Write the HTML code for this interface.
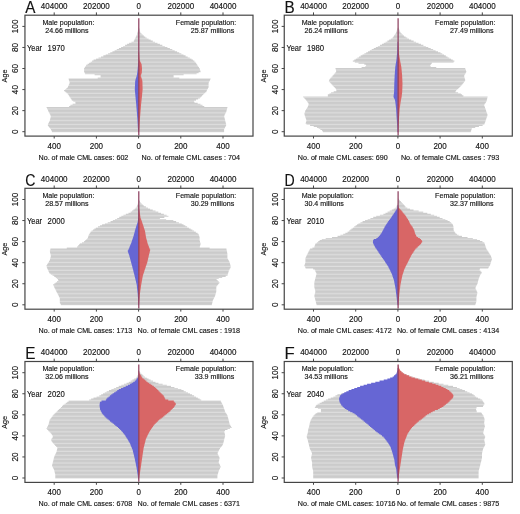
<!DOCTYPE html>
<html><head><meta charset="utf-8"><style>
html,body{margin:0;padding:0;background:#fff;}
body{width:520px;height:514px;overflow:hidden;}
svg{display:block;filter:blur(0.35px);}
</style></head><body>
<svg width="520" height="514" viewBox="0 0 520 514">
<defs>
<pattern id="stripe" patternUnits="userSpaceOnUse" x="0" y="0.3" width="8" height="3.9">
<rect width="8" height="3.9" fill="#cbcbcb"/>
<rect y="2.7" width="8" height="1.2" fill="#dedede"/>
</pattern>
</defs>
<rect width="520" height="514" fill="#fff"/>
<g transform="translate(0.00,0.00)">
<path d="M138.60,132.23 L52.00,132.23 L52.00,131.17 L51.45,131.17 L51.45,130.12 L50.90,130.12 L50.90,129.07 L50.15,129.07 L50.15,128.01 L49.40,128.01 L49.40,126.96 L48.65,126.96 L48.65,125.91 L47.90,125.91 L47.90,124.86 L47.92,124.86 L47.92,123.80 L48.46,123.80 L48.46,122.75 L49.00,122.75 L49.00,121.70 L49.53,121.70 L49.53,120.64 L49.93,120.64 L49.93,119.59 L50.18,119.59 L50.18,118.54 L50.44,118.54 L50.44,117.48 L50.70,117.48 L50.70,116.43 L50.79,116.43 L50.79,115.38 L50.24,115.38 L50.24,114.33 L49.70,114.33 L49.70,113.27 L49.15,113.27 L49.15,112.22 L48.60,112.22 L48.60,111.17 L48.10,111.17 L48.10,110.11 L47.60,110.11 L47.60,109.06 L47.10,109.06 L47.10,108.01 L46.60,108.01 L46.60,106.95 L69.11,106.95 L69.11,105.90 L70.39,105.90 L70.39,104.85 L72.61,104.85 L72.61,103.80 L75.46,103.80 L75.46,102.74 L75.37,102.74 L75.37,101.69 L73.33,101.69 L73.33,100.64 L71.83,100.64 L71.83,99.58 L71.15,99.58 L71.15,98.53 L70.48,98.53 L70.48,97.48 L69.80,97.48 L69.80,96.42 L69.07,96.42 L69.07,95.37 L68.33,95.37 L68.33,94.32 L67.60,94.32 L67.60,93.27 L66.43,93.27 L66.43,92.21 L65.27,92.21 L65.27,91.16 L64.10,91.16 L64.10,90.11 L65.27,90.11 L65.27,89.05 L66.43,89.05 L66.43,88.00 L67.60,88.00 L67.60,86.95 L68.09,86.95 L68.09,85.89 L68.58,85.89 L68.58,84.84 L69.07,84.84 L69.07,83.79 L69.56,83.79 L69.56,82.74 L69.63,82.74 L69.63,81.68 L69.29,81.68 L69.29,80.63 L68.94,80.63 L68.94,79.58 L68.60,79.58 L68.60,78.52 L97.74,78.52 L97.74,77.47 L100.60,77.47 L100.60,76.42 L100.60,76.42 L100.60,75.36 L94.60,75.36 L94.60,74.31 L85.10,74.31 L85.10,73.26 L84.60,73.26 L84.60,72.21 L84.10,72.21 L84.10,71.15 L84.10,71.15 L84.10,70.10 L84.10,70.10 L84.10,69.05 L84.10,69.05 L84.10,67.99 L84.77,67.99 L84.77,66.94 L85.43,66.94 L85.43,65.89 L86.10,65.89 L86.10,64.83 L87.60,64.83 L87.60,63.78 L89.10,63.78 L89.10,62.73 L90.60,62.73 L90.60,61.68 L92.10,61.68 L92.10,60.62 L93.60,60.62 L93.60,59.57 L96.07,59.57 L96.07,58.52 L98.53,58.52 L98.53,57.46 L101.00,57.46 L101.00,56.41 L103.37,56.41 L103.37,55.36 L105.73,55.36 L105.73,54.30 L108.10,54.30 L108.10,53.25 L110.27,53.25 L110.27,52.20 L112.43,52.20 L112.43,51.15 L114.60,51.15 L114.60,50.09 L116.77,50.09 L116.77,49.04 L118.93,49.04 L118.93,47.99 L121.10,47.99 L121.10,46.93 L123.10,46.93 L123.10,45.88 L125.10,45.88 L125.10,44.83 L127.10,44.83 L127.10,43.77 L129.10,43.77 L129.10,42.72 L131.45,42.72 L131.45,41.67 L133.80,41.67 L133.80,40.62 L134.32,40.62 L134.32,39.56 L134.83,39.56 L134.83,38.51 L135.35,38.51 L135.35,37.46 L135.87,37.46 L135.87,36.40 L136.38,36.40 L136.38,35.35 L136.90,35.35 L136.90,34.30 L137.16,34.30 L137.16,33.24 L137.42,33.24 L137.42,32.19 L137.68,32.19 L137.68,31.14 L137.94,31.14 L137.94,30.09 L138.20,30.09 L138.20,29.03 L138.60,29.03 Z" fill="url(#stripe)"/>
<path d="M138.60,132.23 L224.10,132.23 L224.10,131.17 L224.10,131.17 L224.10,130.12 L224.10,130.12 L224.10,129.07 L224.56,129.07 L224.56,128.01 L225.07,128.01 L225.07,126.96 L225.58,126.96 L225.58,125.91 L226.10,125.91 L226.10,124.86 L226.14,124.86 L226.14,123.80 L225.88,123.80 L225.88,122.75 L225.62,122.75 L225.62,121.70 L225.36,121.70 L225.36,120.64 L225.10,120.64 L225.10,119.59 L224.83,119.59 L224.83,118.54 L224.57,118.54 L224.57,117.48 L224.31,117.48 L224.31,116.43 L224.20,116.43 L224.20,115.38 L224.73,115.38 L224.73,114.33 L225.25,114.33 L225.25,113.27 L225.78,113.27 L225.78,112.22 L226.30,112.22 L226.30,111.17 L226.57,111.17 L226.57,110.11 L226.85,110.11 L226.85,109.06 L227.12,109.06 L227.12,108.01 L227.40,108.01 L227.40,106.95 L204.26,106.95 L204.26,105.90 L202.53,105.90 L202.53,104.85 L200.44,104.85 L200.44,103.80 L197.69,103.80 L197.69,102.74 L194.50,102.74 L194.50,101.69 L193.95,101.69 L193.95,100.64 L196.04,100.64 L196.04,99.58 L198.13,99.58 L198.13,98.53 L199.92,98.53 L199.92,97.48 L200.98,97.48 L200.98,96.42 L202.05,96.42 L202.05,95.37 L203.11,95.37 L203.11,94.32 L204.18,94.32 L204.18,93.27 L205.24,93.27 L205.24,92.21 L206.30,92.21 L206.30,91.16 L206.83,91.16 L206.83,90.11 L207.37,90.11 L207.37,89.05 L207.90,89.05 L207.90,88.00 L208.44,88.00 L208.44,86.95 L208.60,86.95 L208.60,85.89 L208.60,85.89 L208.60,84.84 L208.60,84.84 L208.60,83.79 L208.60,83.79 L208.60,82.74 L208.89,82.74 L208.89,81.68 L209.46,81.68 L209.46,80.63 L210.03,80.63 L210.03,79.58 L210.60,79.58 L210.60,78.52 L179.31,78.52 L179.31,77.47 L173.60,77.47 L173.60,76.42 L173.60,76.42 L173.60,75.36 L183.60,75.36 L183.60,74.31 L196.60,74.31 L196.60,73.26 L198.60,73.26 L198.60,72.21 L200.60,72.21 L200.60,71.15 L200.28,71.15 L200.28,70.10 L199.95,70.10 L199.95,69.05 L199.63,69.05 L199.63,67.99 L198.95,67.99 L198.95,66.94 L198.23,66.94 L198.23,65.89 L197.52,65.89 L197.52,64.83 L196.82,64.83 L196.82,63.78 L196.13,63.78 L196.13,62.73 L195.44,62.73 L195.44,61.68 L194.37,61.68 L194.37,60.62 L192.92,60.62 L192.92,59.57 L191.47,59.57 L191.47,58.52 L189.76,58.52 L189.76,57.46 L187.67,57.46 L187.67,56.41 L185.57,56.41 L185.57,55.36 L183.47,55.36 L183.47,54.30 L181.35,54.30 L181.35,53.25 L179.22,53.25 L179.22,52.20 L177.10,52.20 L177.10,51.15 L174.69,51.15 L174.69,50.09 L172.29,50.09 L172.29,49.04 L169.88,49.04 L169.88,47.99 L167.39,47.99 L167.39,46.93 L164.87,46.93 L164.87,45.88 L162.35,45.88 L162.35,44.83 L159.89,44.83 L159.89,43.77 L157.46,43.77 L157.46,42.72 L155.02,42.72 L155.02,41.67 L152.75,41.67 L152.75,40.62 L150.66,40.62 L150.66,39.56 L148.57,39.56 L148.57,38.51 L146.67,38.51 L146.67,37.46 L145.23,37.46 L145.23,36.40 L143.80,36.40 L143.80,35.35 L142.67,35.35 L142.67,34.30 L141.53,34.30 L141.53,33.24 L140.40,33.24 L140.40,32.19 L140.12,32.19 L140.12,31.14 L139.84,31.14 L139.84,30.09 L139.56,30.09 L139.56,29.03 L139.28,29.03 L139.28,27.98 L139.00,27.98 L139.00,26.93 L138.60,26.93 Z" fill="url(#stripe)"/>
<path d="M138.60,132.23 L138.10,132.23 L138.10,131.17 L138.04,131.17 L138.04,130.12 L137.98,130.12 L137.98,129.07 L137.92,129.07 L137.92,128.01 L137.86,128.01 L137.86,126.96 L137.81,126.96 L137.81,125.91 L137.75,125.91 L137.75,124.86 L137.69,124.86 L137.69,123.80 L137.63,123.80 L137.63,122.75 L137.57,122.75 L137.57,121.70 L137.51,121.70 L137.51,120.64 L137.45,120.64 L137.45,119.59 L137.39,119.59 L137.39,118.54 L137.31,118.54 L137.31,117.48 L137.22,117.48 L137.22,116.43 L137.14,116.43 L137.14,115.38 L137.05,115.38 L137.05,114.33 L136.97,114.33 L136.97,113.27 L136.88,113.27 L136.88,112.22 L136.80,112.22 L136.80,111.17 L136.71,111.17 L136.71,110.11 L136.63,110.11 L136.63,109.06 L136.54,109.06 L136.54,108.01 L136.46,108.01 L136.46,106.95 L136.37,106.95 L136.37,105.90 L136.29,105.90 L136.29,104.85 L136.20,104.85 L136.20,103.80 L136.10,103.80 L136.10,102.74 L136.00,102.74 L136.00,101.69 L135.90,101.69 L135.90,100.64 L135.80,100.64 L135.80,99.58 L135.70,99.58 L135.70,98.53 L135.60,98.53 L135.60,97.48 L135.50,97.48 L135.50,96.42 L135.40,96.42 L135.40,95.37 L135.30,95.37 L135.30,94.32 L135.20,94.32 L135.20,93.27 L135.10,93.27 L135.10,92.21 L135.00,92.21 L135.00,91.16 L134.90,91.16 L134.90,90.11 L134.80,90.11 L134.80,89.05 L134.85,89.05 L134.85,88.00 L134.90,88.00 L134.90,86.95 L134.94,86.95 L134.94,85.89 L134.99,85.89 L134.99,84.84 L135.04,84.84 L135.04,83.79 L135.09,83.79 L135.09,82.74 L135.13,82.74 L135.13,81.68 L135.18,81.68 L135.18,80.63 L135.39,80.63 L135.39,79.58 L135.71,79.58 L135.71,78.52 L136.04,78.52 L136.04,77.47 L136.36,77.47 L136.36,76.42 L136.68,76.42 L136.68,75.36 L137.00,75.36 L137.00,74.31 L137.12,74.31 L137.12,73.26 L137.25,73.26 L137.25,72.21 L137.38,72.21 L137.38,71.15 L137.50,71.15 L137.50,70.10 L137.62,70.10 L137.62,69.05 L137.73,69.05 L137.73,67.99 L137.80,67.99 L137.80,66.94 L137.88,66.94 L137.88,65.89 L137.95,65.89 L137.95,64.83 L138.03,64.83 L138.03,63.78 L138.10,63.78 L138.10,62.73 L138.60,62.73 Z" fill="#6666d4"/>
<path d="M138.60,132.23 L139.10,132.23 L139.10,131.17 L139.17,131.17 L139.17,130.12 L139.23,130.12 L139.23,129.07 L139.30,129.07 L139.30,128.01 L139.37,128.01 L139.37,126.96 L139.44,126.96 L139.44,125.91 L139.50,125.91 L139.50,124.86 L139.57,124.86 L139.57,123.80 L139.64,123.80 L139.64,122.75 L139.71,122.75 L139.71,121.70 L139.77,121.70 L139.77,120.64 L139.84,120.64 L139.84,119.59 L139.91,119.59 L139.91,118.54 L139.99,118.54 L139.99,117.48 L140.08,117.48 L140.08,116.43 L140.16,116.43 L140.16,115.38 L140.25,115.38 L140.25,114.33 L140.33,114.33 L140.33,113.27 L140.42,113.27 L140.42,112.22 L140.50,112.22 L140.50,111.17 L140.59,111.17 L140.59,110.11 L140.67,110.11 L140.67,109.06 L140.76,109.06 L140.76,108.01 L140.84,108.01 L140.84,106.95 L140.93,106.95 L140.93,105.90 L141.01,105.90 L141.01,104.85 L141.10,104.85 L141.10,103.80 L141.21,103.80 L141.21,102.74 L141.33,102.74 L141.33,101.69 L141.44,101.69 L141.44,100.64 L141.56,100.64 L141.56,99.58 L141.67,99.58 L141.67,98.53 L141.79,98.53 L141.79,97.48 L141.90,97.48 L141.90,96.42 L142.00,96.42 L142.00,95.37 L142.10,95.37 L142.10,94.32 L142.20,94.32 L142.20,93.27 L142.30,93.27 L142.30,92.21 L142.40,92.21 L142.40,91.16 L142.50,91.16 L142.50,90.11 L142.60,90.11 L142.60,89.05 L142.58,89.05 L142.58,88.00 L142.55,88.00 L142.55,86.95 L142.53,86.95 L142.53,85.89 L142.50,85.89 L142.50,84.84 L142.48,84.84 L142.48,83.79 L142.46,83.79 L142.46,82.74 L142.43,82.74 L142.43,81.68 L142.41,81.68 L142.41,80.63 L142.19,80.63 L142.19,79.58 L141.84,79.58 L141.84,78.52 L141.50,78.52 L141.50,77.47 L141.15,77.47 L141.15,76.42 L140.80,76.42 L140.80,75.36 L141.13,75.36 L141.13,74.31 L141.47,74.31 L141.47,73.26 L141.80,73.26 L141.80,72.21 L141.85,72.21 L141.85,71.15 L141.90,71.15 L141.90,70.10 L141.95,70.10 L141.95,69.05 L142.00,69.05 L142.00,67.99 L141.90,67.99 L141.90,66.94 L141.80,66.94 L141.80,65.89 L141.70,65.89 L141.70,64.83 L141.60,64.83 L141.60,63.78 L141.10,63.78 L141.10,62.73 L140.60,62.73 L140.60,61.68 L140.10,61.68 L140.10,60.62 L139.60,60.62 L139.60,59.57 L139.53,59.57 L139.53,58.52 L139.46,58.52 L139.46,57.46 L139.39,57.46 L139.39,56.41 L139.31,56.41 L139.31,55.36 L139.24,55.36 L139.24,54.30 L139.17,54.30 L139.17,53.25 L139.10,53.25 L139.10,52.20 L138.60,52.20 Z" fill="#d86666"/>
<line x1="138.79999999999998" y1="18.2" x2="138.79999999999998" y2="135.5" stroke="#8a3a5a" stroke-width="1.2"/>
<rect x="24.95" y="15.2" width="228.05" height="120.90" fill="none" stroke="#454545" stroke-width="1.2"/>
<line x1="54.20" y1="12.40" x2="54.20" y2="15.20" stroke="#454545" stroke-width="1"/>
<line x1="54.20" y1="136.10" x2="54.20" y2="138.50" stroke="#454545" stroke-width="1"/>
<line x1="96.40" y1="12.40" x2="96.40" y2="15.20" stroke="#454545" stroke-width="1"/>
<line x1="96.40" y1="136.10" x2="96.40" y2="138.50" stroke="#454545" stroke-width="1"/>
<line x1="138.60" y1="12.40" x2="138.60" y2="15.20" stroke="#454545" stroke-width="1"/>
<line x1="138.60" y1="136.10" x2="138.60" y2="138.50" stroke="#454545" stroke-width="1"/>
<line x1="180.80" y1="12.40" x2="180.80" y2="15.20" stroke="#454545" stroke-width="1"/>
<line x1="180.80" y1="136.10" x2="180.80" y2="138.50" stroke="#454545" stroke-width="1"/>
<line x1="223.00" y1="12.40" x2="223.00" y2="15.20" stroke="#454545" stroke-width="1"/>
<line x1="223.00" y1="136.10" x2="223.00" y2="138.50" stroke="#454545" stroke-width="1"/>
<line x1="22.35" y1="131.70" x2="24.95" y2="131.70" stroke="#454545" stroke-width="1"/>
<line x1="22.35" y1="110.64" x2="24.95" y2="110.64" stroke="#454545" stroke-width="1"/>
<line x1="22.35" y1="89.58" x2="24.95" y2="89.58" stroke="#454545" stroke-width="1"/>
<line x1="22.35" y1="68.52" x2="24.95" y2="68.52" stroke="#454545" stroke-width="1"/>
<line x1="22.35" y1="47.46" x2="24.95" y2="47.46" stroke="#454545" stroke-width="1"/>
<line x1="22.35" y1="26.40" x2="24.95" y2="26.40" stroke="#454545" stroke-width="1"/>
<g font-family='"Liberation Sans", sans-serif' fill="#111" stroke="#1a1a1a" stroke-width="0.15">
<text x="25.30" y="12.80" font-size="16.5" textLength="10.20" lengthAdjust="spacingAndGlyphs">A</text>
<text x="54.20" y="8.50" font-size="8.7" textLength="26.70" lengthAdjust="spacingAndGlyphs" text-anchor="middle">404000</text>
<text x="96.40" y="8.50" font-size="8.7" textLength="26.70" lengthAdjust="spacingAndGlyphs" text-anchor="middle">202000</text>
<text x="138.60" y="8.50" font-size="8.7" textLength="4.45" lengthAdjust="spacingAndGlyphs" text-anchor="middle">0</text>
<text x="180.80" y="8.50" font-size="8.7" textLength="26.70" lengthAdjust="spacingAndGlyphs" text-anchor="middle">202000</text>
<text x="223.00" y="8.50" font-size="8.7" textLength="26.70" lengthAdjust="spacingAndGlyphs" text-anchor="middle">404000</text>
<text x="54.20" y="148.80" font-size="8.7" textLength="13.35" lengthAdjust="spacingAndGlyphs" text-anchor="middle">400</text>
<text x="96.40" y="148.80" font-size="8.7" textLength="13.35" lengthAdjust="spacingAndGlyphs" text-anchor="middle">200</text>
<text x="138.60" y="148.80" font-size="8.7" textLength="4.45" lengthAdjust="spacingAndGlyphs" text-anchor="middle">0</text>
<text x="180.80" y="148.80" font-size="8.7" textLength="13.35" lengthAdjust="spacingAndGlyphs" text-anchor="middle">200</text>
<text x="223.00" y="148.80" font-size="8.7" textLength="13.35" lengthAdjust="spacingAndGlyphs" text-anchor="middle">400</text>
<text x="42.40" y="25.00" font-size="7.1" textLength="52.00" lengthAdjust="spacingAndGlyphs">Male population:</text>
<text x="45.20" y="32.70" font-size="7.1">24.66 millions</text>
<text x="175.80" y="24.80" font-size="7.1" textLength="60.40" lengthAdjust="spacingAndGlyphs">Female population:</text>
<text x="234.20" y="32.80" font-size="7.1" text-anchor="end">25.87 millions</text>
<text x="27.10" y="51.00" font-size="9.2" textLength="15.00" lengthAdjust="spacingAndGlyphs">Year</text>
<text x="47.60" y="51.00" font-size="9.2" textLength="17.20" lengthAdjust="spacingAndGlyphs">1970</text>
<text x="38.50" y="159.90" font-size="7.15">No. of male CML cases: 602</text>
<text x="240.00" y="159.90" font-size="7.2" text-anchor="end">No. of female CML cases : 704</text>
<text transform="translate(18.3,131.70) rotate(-90)" font-size="8.2" text-anchor="middle">0</text>
<text transform="translate(18.3,110.64) rotate(-90)" font-size="8.2" text-anchor="middle">20</text>
<text transform="translate(18.3,89.58) rotate(-90)" font-size="8.2" text-anchor="middle">40</text>
<text transform="translate(18.3,68.52) rotate(-90)" font-size="8.2" text-anchor="middle">60</text>
<text transform="translate(18.3,47.46) rotate(-90)" font-size="8.2" text-anchor="middle">80</text>
<text transform="translate(18.3,26.40) rotate(-90)" font-size="8.2" text-anchor="middle">100</text>
<text transform="translate(6.9,76.0) rotate(-90)" font-size="7.2" text-anchor="middle">Age</text>
</g>
</g>
<g transform="translate(259.30,0.00)">
<path d="M138.60,132.23 L63.60,132.23 L63.60,131.17 L62.80,131.17 L62.80,130.12 L61.08,130.12 L61.08,129.07 L59.36,129.07 L59.36,128.01 L57.64,128.01 L57.64,126.96 L54.41,126.96 L54.41,125.91 L50.80,125.91 L50.80,124.86 L47.18,124.86 L47.18,123.80 L46.34,123.80 L46.34,122.75 L46.68,122.75 L46.68,121.70 L47.03,121.70 L47.03,120.64 L47.03,120.64 L47.03,119.59 L46.68,119.59 L46.68,118.54 L46.34,118.54 L46.34,117.48 L46.00,117.48 L46.00,116.43 L45.65,116.43 L45.65,115.38 L45.31,115.38 L45.31,114.33 L45.04,114.33 L45.04,113.27 L45.39,113.27 L45.39,112.22 L45.75,112.22 L45.75,111.17 L46.10,111.17 L46.10,110.11 L46.77,110.11 L46.77,109.06 L47.43,109.06 L47.43,108.01 L48.10,108.01 L48.10,106.95 L48.57,106.95 L48.57,105.90 L48.96,105.90 L48.96,104.85 L49.35,104.85 L49.35,103.80 L49.07,103.80 L49.07,102.74 L48.35,102.74 L48.35,101.69 L47.63,101.69 L47.63,100.64 L46.80,100.64 L46.80,99.58 L45.80,99.58 L45.80,98.53 L44.80,98.53 L44.80,97.48 L43.80,97.48 L43.80,96.42 L68.54,96.42 L68.54,95.37 L68.56,95.37 L68.56,94.32 L70.18,94.32 L70.18,93.27 L71.80,93.27 L71.80,92.21 L74.42,92.21 L74.42,91.16 L77.04,91.16 L77.04,90.11 L76.83,90.11 L76.83,89.05 L76.30,89.05 L76.30,88.00 L75.38,88.00 L75.38,86.95 L74.34,86.95 L74.34,85.89 L73.31,85.89 L73.31,84.84 L72.35,84.84 L72.35,83.79 L71.42,83.79 L71.42,82.74 L70.50,82.74 L70.50,81.68 L69.58,81.68 L69.58,80.63 L69.84,80.63 L69.84,79.58 L70.60,79.58 L70.60,78.52 L71.37,78.52 L71.37,77.47 L72.32,77.47 L72.32,76.42 L73.36,76.42 L73.36,75.36 L74.39,75.36 L74.39,74.31 L75.24,74.31 L75.24,73.26 L76.04,73.26 L76.04,72.21 L76.84,72.21 L76.84,71.15 L76.77,71.15 L76.77,70.10 L76.49,70.10 L76.49,69.05 L76.20,69.05 L76.20,67.99 L102.30,67.99 L102.30,66.94 L106.05,66.94 L106.05,65.89 L106.80,65.89 L106.80,64.83 L105.04,64.83 L105.04,63.78 L99.19,63.78 L99.19,62.73 L95.51,62.73 L95.51,61.68 L93.54,61.68 L93.54,60.62 L95.02,60.62 L95.02,59.57 L96.52,59.57 L96.52,58.52 L98.10,58.52 L98.10,57.46 L99.69,57.46 L99.69,56.41 L101.36,56.41 L101.36,55.36 L103.22,55.36 L103.22,54.30 L105.08,54.30 L105.08,53.25 L106.92,53.25 L106.92,52.20 L108.72,52.20 L108.72,51.15 L110.52,51.15 L110.52,50.09 L112.42,50.09 L112.42,49.04 L114.48,49.04 L114.48,47.99 L116.54,47.99 L116.54,46.93 L118.60,46.93 L118.60,45.88 L120.66,45.88 L120.66,44.83 L122.64,44.83 L122.64,43.77 L124.47,43.77 L124.47,42.72 L126.31,42.72 L126.31,41.67 L128.12,41.67 L128.12,40.62 L129.83,40.62 L129.83,39.56 L131.55,39.56 L131.55,38.51 L133.18,38.51 L133.18,37.46 L133.94,37.46 L133.94,36.40 L134.71,36.40 L134.71,35.35 L135.48,35.35 L135.48,34.30 L136.25,34.30 L136.25,33.24 L136.70,33.24 L136.70,32.19 L137.07,32.19 L137.07,31.14 L137.45,31.14 L137.45,30.09 L137.82,30.09 L137.82,29.03 L138.20,29.03 L138.20,27.98 L138.60,27.98 Z" fill="url(#stripe)"/>
<path d="M138.60,132.23 L211.50,132.23 L211.50,131.17 L211.85,131.17 L211.85,130.12 L212.21,130.12 L212.21,129.07 L212.56,129.07 L212.56,128.01 L215.93,128.01 L215.93,126.96 L219.62,126.96 L219.62,125.91 L223.32,125.91 L223.32,124.86 L225.03,124.86 L225.03,123.80 L225.42,123.80 L225.42,122.75 L225.81,122.75 L225.81,121.70 L226.18,121.70 L226.18,120.64 L226.53,120.64 L226.53,119.59 L226.89,119.59 L226.89,118.54 L227.25,118.54 L227.25,117.48 L227.62,117.48 L227.62,116.43 L228.00,116.43 L228.00,115.38 L228.22,115.38 L228.22,114.33 L227.85,114.33 L227.85,113.27 L227.47,113.27 L227.47,112.22 L227.10,112.22 L227.10,111.17 L226.76,111.17 L226.76,110.11 L226.41,110.11 L226.41,109.06 L226.07,109.06 L226.07,108.01 L225.70,108.01 L225.70,106.95 L225.32,106.95 L225.32,105.90 L224.95,105.90 L224.95,104.85 L225.25,104.85 L225.25,103.80 L225.99,103.80 L225.99,102.74 L226.73,102.74 L226.73,101.69 L227.23,101.69 L227.23,100.64 L227.50,100.64 L227.50,99.58 L227.77,99.58 L227.77,98.53 L228.03,98.53 L228.03,97.48 L228.30,97.48 L228.30,96.42 L204.08,96.42 L204.08,95.37 L202.79,95.37 L202.79,94.32 L201.50,94.32 L201.50,93.27 L198.83,93.27 L198.83,92.21 L196.17,92.21 L196.17,91.16 L196.89,91.16 L196.89,90.11 L197.98,90.11 L197.98,89.05 L199.08,89.05 L199.08,88.00 L200.12,88.00 L200.12,86.95 L201.16,86.95 L201.16,85.89 L202.19,85.89 L202.19,84.84 L203.09,84.84 L203.09,83.79 L203.90,83.79 L203.90,82.74 L204.70,82.74 L204.70,81.68 L205.51,81.68 L205.51,80.63 L205.89,80.63 L205.89,79.58 L205.61,79.58 L205.61,78.52 L205.33,78.52 L205.33,77.47 L205.05,77.47 L205.05,76.42 L204.86,76.42 L204.86,75.36 L205.43,75.36 L205.43,74.31 L206.01,74.31 L206.01,73.26 L206.58,73.26 L206.58,72.21 L207.06,72.21 L207.06,71.15 L206.69,71.15 L206.69,70.10 L206.31,70.10 L206.31,69.05 L205.94,69.05 L205.94,67.99 L176.94,67.99 L176.94,66.94 L171.41,66.94 L171.41,65.89 L170.96,65.89 L170.96,64.83 L171.78,64.83 L171.78,63.78 L172.60,63.78 L172.60,62.73 L194.26,62.73 L194.26,61.68 L195.07,61.68 L195.07,60.62 L193.43,60.62 L193.43,59.57 L191.72,59.57 L191.72,58.52 L189.97,58.52 L189.97,57.46 L188.22,57.46 L188.22,56.41 L186.47,56.41 L186.47,55.36 L184.72,55.36 L184.72,54.30 L182.97,54.30 L182.97,53.25 L181.16,53.25 L181.16,52.20 L178.72,52.20 L178.72,51.15 L176.28,51.15 L176.28,50.09 L173.84,50.09 L173.84,49.04 L171.41,49.04 L171.41,47.99 L168.97,47.99 L168.97,46.93 L166.53,46.93 L166.53,45.88 L164.09,45.88 L164.09,44.83 L161.66,44.83 L161.66,43.77 L159.22,43.77 L159.22,42.72 L156.78,42.72 L156.78,41.67 L154.34,41.67 L154.34,40.62 L151.91,40.62 L151.91,39.56 L149.69,39.56 L149.69,38.51 L147.99,38.51 L147.99,37.46 L146.30,37.46 L146.30,36.40 L144.60,36.40 L144.60,35.35 L143.50,35.35 L143.50,34.30 L142.40,34.30 L142.40,33.24 L141.30,33.24 L141.30,32.19 L140.84,32.19 L140.84,31.14 L140.38,31.14 L140.38,30.09 L139.92,30.09 L139.92,29.03 L139.46,29.03 L139.46,27.98 L139.00,27.98 L139.00,26.93 L138.60,26.93 Z" fill="url(#stripe)"/>
<path d="M138.60,132.23 L138.10,132.23 L138.10,131.17 L138.10,131.17 L138.10,130.12 L138.10,130.12 L138.10,129.07 L138.10,129.07 L138.10,128.01 L138.03,128.01 L138.03,126.96 L137.97,126.96 L137.97,125.91 L137.90,125.91 L137.90,124.86 L137.82,124.86 L137.82,123.80 L137.75,123.80 L137.75,122.75 L137.67,122.75 L137.67,121.70 L137.60,121.70 L137.60,120.64 L137.53,120.64 L137.53,119.59 L137.45,119.59 L137.45,118.54 L137.38,118.54 L137.38,117.48 L137.30,117.48 L137.30,116.43 L137.24,116.43 L137.24,115.38 L137.17,115.38 L137.17,114.33 L137.11,114.33 L137.11,113.27 L137.05,113.27 L137.05,112.22 L136.98,112.22 L136.98,111.17 L136.92,111.17 L136.92,110.11 L136.86,110.11 L136.86,109.06 L136.79,109.06 L136.79,108.01 L136.66,108.01 L136.66,106.95 L136.53,106.95 L136.53,105.90 L136.41,105.90 L136.41,104.85 L136.28,104.85 L136.28,103.80 L136.15,103.80 L136.15,102.74 L136.03,102.74 L136.03,101.69 L135.90,101.69 L135.90,100.64 L135.70,100.64 L135.70,99.58 L135.20,99.58 L135.20,98.53 L134.70,98.53 L134.70,97.48 L134.20,97.48 L134.20,96.42 L134.32,96.42 L134.32,95.37 L134.45,95.37 L134.45,94.32 L134.57,94.32 L134.57,93.27 L134.70,93.27 L134.70,92.21 L134.81,92.21 L134.81,91.16 L134.83,91.16 L134.83,90.11 L134.85,90.11 L134.85,89.05 L134.88,89.05 L134.88,88.00 L134.91,88.00 L134.91,86.95 L134.93,86.95 L134.93,85.89 L134.95,85.89 L134.95,84.84 L134.98,84.84 L134.98,83.79 L135.01,83.79 L135.01,82.74 L135.06,82.74 L135.06,81.68 L135.11,81.68 L135.11,80.63 L135.16,80.63 L135.16,79.58 L135.21,79.58 L135.21,78.52 L135.26,78.52 L135.26,77.47 L135.31,77.47 L135.31,76.42 L135.36,76.42 L135.36,75.36 L135.42,75.36 L135.42,74.31 L135.50,74.31 L135.50,73.26 L135.57,73.26 L135.57,72.21 L135.65,72.21 L135.65,71.15 L135.72,71.15 L135.72,70.10 L135.80,70.10 L135.80,69.05 L135.87,69.05 L135.87,67.99 L135.95,67.99 L135.95,66.94 L136.05,66.94 L136.05,65.89 L136.23,65.89 L136.23,64.83 L136.40,64.83 L136.40,63.78 L136.58,63.78 L136.58,62.73 L136.75,62.73 L136.75,61.68 L136.93,61.68 L136.93,60.62 L137.10,60.62 L137.10,59.57 L137.20,59.57 L137.20,58.52 L137.30,58.52 L137.30,57.46 L137.40,57.46 L137.40,56.41 L137.50,56.41 L137.50,55.36 L137.60,55.36 L137.60,54.30 L137.70,54.30 L137.70,53.25 L137.80,53.25 L137.80,52.20 L137.84,52.20 L137.84,51.15 L137.88,51.15 L137.88,50.09 L137.92,50.09 L137.92,49.04 L137.96,49.04 L137.96,47.99 L138.00,47.99 L138.00,46.93 L138.04,46.93 L138.04,45.88 L138.08,45.88 L138.08,44.83 L138.12,44.83 L138.12,43.77 L138.16,43.77 L138.16,42.72 L138.20,42.72 L138.20,41.67 L138.60,41.67 Z" fill="#6666d4"/>
<path d="M138.60,132.23 L139.10,132.23 L139.10,131.17 L139.10,131.17 L139.10,130.12 L139.10,130.12 L139.10,129.07 L139.10,129.07 L139.10,128.01 L139.17,128.01 L139.17,126.96 L139.23,126.96 L139.23,125.91 L139.30,125.91 L139.30,124.86 L139.36,124.86 L139.36,123.80 L139.42,123.80 L139.42,122.75 L139.49,122.75 L139.49,121.70 L139.55,121.70 L139.55,120.64 L139.61,120.64 L139.61,119.59 L139.67,119.59 L139.67,118.54 L139.74,118.54 L139.74,117.48 L139.80,117.48 L139.80,116.43 L139.88,116.43 L139.88,115.38 L139.95,115.38 L139.95,114.33 L140.03,114.33 L140.03,113.27 L140.10,113.27 L140.10,112.22 L140.18,112.22 L140.18,111.17 L140.26,111.17 L140.26,110.11 L140.33,110.11 L140.33,109.06 L140.42,109.06 L140.42,108.01 L140.57,108.01 L140.57,106.95 L140.72,106.95 L140.72,105.90 L140.87,105.90 L140.87,104.85 L141.02,104.85 L141.02,103.80 L141.17,103.80 L141.17,102.74 L141.33,102.74 L141.33,101.69 L141.48,101.69 L141.48,100.64 L141.64,100.64 L141.64,99.58 L141.86,99.58 L141.86,98.53 L142.08,98.53 L142.08,97.48 L142.30,97.48 L142.30,96.42 L142.42,96.42 L142.42,95.37 L142.55,95.37 L142.55,94.32 L142.67,94.32 L142.67,93.27 L142.80,93.27 L142.80,92.21 L142.91,92.21 L142.91,91.16 L142.94,91.16 L142.94,90.11 L142.98,90.11 L142.98,89.05 L143.02,89.05 L143.02,88.00 L143.06,88.00 L143.06,86.95 L143.09,86.95 L143.09,85.89 L143.13,85.89 L143.13,84.84 L143.17,84.84 L143.17,83.79 L143.19,83.79 L143.19,82.74 L143.14,82.74 L143.14,81.68 L143.09,81.68 L143.09,80.63 L143.04,80.63 L143.04,79.58 L142.99,79.58 L142.99,78.52 L142.94,78.52 L142.94,77.47 L142.89,77.47 L142.89,76.42 L142.84,76.42 L142.84,75.36 L142.77,75.36 L142.77,74.31 L142.67,74.31 L142.67,73.26 L142.57,73.26 L142.57,72.21 L142.47,72.21 L142.47,71.15 L142.37,71.15 L142.37,70.10 L142.27,70.10 L142.27,69.05 L142.17,69.05 L142.17,67.99 L142.07,67.99 L142.07,66.94 L141.94,66.94 L141.94,65.89 L141.73,65.89 L141.73,64.83 L141.53,64.83 L141.53,63.78 L141.32,63.78 L141.32,62.73 L141.11,62.73 L141.11,61.68 L140.91,61.68 L140.91,60.62 L140.70,60.62 L140.70,59.57 L140.53,59.57 L140.53,58.52 L140.36,58.52 L140.36,57.46 L140.18,57.46 L140.18,56.41 L140.01,56.41 L140.01,55.36 L139.84,55.36 L139.84,54.30 L139.67,54.30 L139.67,53.25 L139.56,53.25 L139.56,52.20 L139.50,52.20 L139.50,51.15 L139.44,51.15 L139.44,50.09 L139.38,50.09 L139.38,49.04 L139.32,49.04 L139.32,47.99 L139.27,47.99 L139.27,46.93 L139.22,46.93 L139.22,45.88 L139.16,45.88 L139.16,44.83 L139.11,44.83 L139.11,43.77 L139.05,43.77 L139.05,42.72 L139.00,42.72 L139.00,41.67 L138.60,41.67 Z" fill="#d86666"/>
<line x1="138.79999999999998" y1="18.2" x2="138.79999999999998" y2="135.5" stroke="#8a3a5a" stroke-width="1.2"/>
<rect x="24.95" y="15.2" width="228.05" height="120.90" fill="none" stroke="#454545" stroke-width="1.2"/>
<line x1="54.20" y1="12.40" x2="54.20" y2="15.20" stroke="#454545" stroke-width="1"/>
<line x1="54.20" y1="136.10" x2="54.20" y2="138.50" stroke="#454545" stroke-width="1"/>
<line x1="96.40" y1="12.40" x2="96.40" y2="15.20" stroke="#454545" stroke-width="1"/>
<line x1="96.40" y1="136.10" x2="96.40" y2="138.50" stroke="#454545" stroke-width="1"/>
<line x1="138.60" y1="12.40" x2="138.60" y2="15.20" stroke="#454545" stroke-width="1"/>
<line x1="138.60" y1="136.10" x2="138.60" y2="138.50" stroke="#454545" stroke-width="1"/>
<line x1="180.80" y1="12.40" x2="180.80" y2="15.20" stroke="#454545" stroke-width="1"/>
<line x1="180.80" y1="136.10" x2="180.80" y2="138.50" stroke="#454545" stroke-width="1"/>
<line x1="223.00" y1="12.40" x2="223.00" y2="15.20" stroke="#454545" stroke-width="1"/>
<line x1="223.00" y1="136.10" x2="223.00" y2="138.50" stroke="#454545" stroke-width="1"/>
<line x1="22.35" y1="131.70" x2="24.95" y2="131.70" stroke="#454545" stroke-width="1"/>
<line x1="22.35" y1="110.64" x2="24.95" y2="110.64" stroke="#454545" stroke-width="1"/>
<line x1="22.35" y1="89.58" x2="24.95" y2="89.58" stroke="#454545" stroke-width="1"/>
<line x1="22.35" y1="68.52" x2="24.95" y2="68.52" stroke="#454545" stroke-width="1"/>
<line x1="22.35" y1="47.46" x2="24.95" y2="47.46" stroke="#454545" stroke-width="1"/>
<line x1="22.35" y1="26.40" x2="24.95" y2="26.40" stroke="#454545" stroke-width="1"/>
<g font-family='"Liberation Sans", sans-serif' fill="#111" stroke="#1a1a1a" stroke-width="0.15">
<text x="25.30" y="12.80" font-size="16.5" textLength="10.20" lengthAdjust="spacingAndGlyphs">B</text>
<text x="54.20" y="8.50" font-size="8.7" textLength="26.70" lengthAdjust="spacingAndGlyphs" text-anchor="middle">404000</text>
<text x="96.40" y="8.50" font-size="8.7" textLength="26.70" lengthAdjust="spacingAndGlyphs" text-anchor="middle">202000</text>
<text x="138.60" y="8.50" font-size="8.7" textLength="4.45" lengthAdjust="spacingAndGlyphs" text-anchor="middle">0</text>
<text x="180.80" y="8.50" font-size="8.7" textLength="26.70" lengthAdjust="spacingAndGlyphs" text-anchor="middle">202000</text>
<text x="223.00" y="8.50" font-size="8.7" textLength="26.70" lengthAdjust="spacingAndGlyphs" text-anchor="middle">404000</text>
<text x="54.20" y="148.80" font-size="8.7" textLength="13.35" lengthAdjust="spacingAndGlyphs" text-anchor="middle">400</text>
<text x="96.40" y="148.80" font-size="8.7" textLength="13.35" lengthAdjust="spacingAndGlyphs" text-anchor="middle">200</text>
<text x="138.60" y="148.80" font-size="8.7" textLength="4.45" lengthAdjust="spacingAndGlyphs" text-anchor="middle">0</text>
<text x="180.80" y="148.80" font-size="8.7" textLength="13.35" lengthAdjust="spacingAndGlyphs" text-anchor="middle">200</text>
<text x="223.00" y="148.80" font-size="8.7" textLength="13.35" lengthAdjust="spacingAndGlyphs" text-anchor="middle">400</text>
<text x="42.40" y="25.00" font-size="7.1" textLength="52.00" lengthAdjust="spacingAndGlyphs">Male population:</text>
<text x="45.20" y="32.70" font-size="7.1">26.24 millions</text>
<text x="175.80" y="24.80" font-size="7.1" textLength="60.40" lengthAdjust="spacingAndGlyphs">Female population:</text>
<text x="234.20" y="32.80" font-size="7.1" text-anchor="end">27.49 millions</text>
<text x="27.10" y="51.00" font-size="9.2" textLength="15.00" lengthAdjust="spacingAndGlyphs">Year</text>
<text x="47.60" y="51.00" font-size="9.2" textLength="17.20" lengthAdjust="spacingAndGlyphs">1980</text>
<text x="38.50" y="159.90" font-size="7.15">No. of male CML cases: 690</text>
<text x="240.00" y="159.90" font-size="7.2" text-anchor="end">No. of female CML cases : 793</text>
<text transform="translate(18.3,131.70) rotate(-90)" font-size="8.2" text-anchor="middle">0</text>
<text transform="translate(18.3,110.64) rotate(-90)" font-size="8.2" text-anchor="middle">20</text>
<text transform="translate(18.3,89.58) rotate(-90)" font-size="8.2" text-anchor="middle">40</text>
<text transform="translate(18.3,68.52) rotate(-90)" font-size="8.2" text-anchor="middle">60</text>
<text transform="translate(18.3,47.46) rotate(-90)" font-size="8.2" text-anchor="middle">80</text>
<text transform="translate(18.3,26.40) rotate(-90)" font-size="8.2" text-anchor="middle">100</text>
<text transform="translate(6.9,76.0) rotate(-90)" font-size="7.2" text-anchor="middle">Age</text>
</g>
</g>
<g transform="translate(0.00,173.10)">
<path d="M138.60,132.23 L60.90,132.23 L60.90,131.17 L60.38,131.17 L60.38,130.12 L59.85,130.12 L59.85,129.07 L59.80,129.07 L59.80,128.01 L59.80,128.01 L59.80,126.96 L59.80,126.96 L59.80,125.91 L59.80,125.91 L59.80,124.86 L59.43,124.86 L59.43,123.80 L58.91,123.80 L58.91,122.75 L58.39,122.75 L58.39,121.70 L57.86,121.70 L57.86,120.64 L57.33,120.64 L57.33,119.59 L56.78,119.59 L56.78,118.54 L56.23,118.54 L56.23,117.48 L55.68,117.48 L55.68,116.43 L55.15,116.43 L55.15,115.38 L54.63,115.38 L54.63,114.33 L54.12,114.33 L54.12,113.27 L53.61,113.27 L53.61,112.22 L53.10,112.22 L53.10,111.17 L54.40,111.17 L54.40,110.11 L55.70,110.11 L55.70,109.06 L57.01,109.06 L57.01,108.01 L58.31,108.01 L58.31,106.95 L57.93,106.95 L57.93,105.90 L56.84,105.90 L56.84,104.85 L55.74,104.85 L55.74,103.80 L54.27,103.80 L54.27,102.74 L52.55,102.74 L52.55,101.69 L50.83,101.69 L50.83,100.64 L49.59,100.64 L49.59,99.58 L49.05,99.58 L49.05,98.53 L48.52,98.53 L48.52,97.48 L47.98,97.48 L47.98,96.42 L47.46,96.42 L47.46,95.37 L47.11,95.37 L47.11,94.32 L46.75,94.32 L46.75,93.27 L46.40,93.27 L46.40,92.21 L47.04,92.21 L47.04,91.16 L47.68,91.16 L47.68,90.11 L48.32,90.11 L48.32,89.05 L48.97,89.05 L48.97,88.00 L49.61,88.00 L49.61,86.95 L49.98,86.95 L49.98,85.89 L50.25,85.89 L50.25,84.84 L50.51,84.84 L50.51,83.79 L50.77,83.79 L50.77,82.74 L50.77,82.74 L50.77,81.68 L50.52,81.68 L50.52,80.63 L50.26,80.63 L50.26,79.58 L50.00,79.58 L50.00,78.52 L49.86,78.52 L49.86,77.47 L50.16,77.47 L50.16,76.42 L50.45,76.42 L50.45,75.36 L66.79,75.36 L66.79,74.31 L77.14,74.31 L77.14,73.26 L78.06,73.26 L78.06,72.21 L78.98,72.21 L78.98,71.15 L79.90,71.15 L79.90,70.10 L82.00,70.10 L82.00,69.05 L84.09,69.05 L84.09,67.99 L85.26,67.99 L85.26,66.94 L86.32,66.94 L86.32,65.89 L87.38,65.89 L87.38,64.83 L87.94,64.83 L87.94,63.78 L88.28,63.78 L88.28,62.73 L88.63,62.73 L88.63,61.68 L89.15,61.68 L89.15,60.62 L89.86,60.62 L89.86,59.57 L90.57,59.57 L90.57,58.52 L91.56,58.52 L91.56,57.46 L92.97,57.46 L92.97,56.41 L94.38,56.41 L94.38,55.36 L95.91,55.36 L95.91,54.30 L97.97,54.30 L97.97,53.25 L100.04,53.25 L100.04,52.20 L102.10,52.20 L102.10,51.15 L104.91,51.15 L104.91,50.09 L107.72,50.09 L107.72,49.04 L110.54,49.04 L110.54,47.99 L112.83,47.99 L112.83,46.93 L114.99,46.93 L114.99,45.88 L117.15,45.88 L117.15,44.83 L119.27,44.83 L119.27,43.77 L121.36,43.77 L121.36,42.72 L123.45,42.72 L123.45,41.67 L125.83,41.67 L125.83,40.62 L128.50,40.62 L128.50,39.56 L130.65,39.56 L130.65,38.51 L132.03,38.51 L132.03,37.46 L133.40,37.46 L133.40,36.40 L134.70,36.40 L134.70,35.35 L135.70,35.35 L135.70,34.30 L136.70,34.30 L136.70,33.24 L137.07,33.24 L137.07,32.19 L137.45,32.19 L137.45,31.14 L137.82,31.14 L137.82,30.09 L138.20,30.09 L138.20,29.03 L138.60,29.03 Z" fill="url(#stripe)"/>
<path d="M138.60,132.23 L211.80,132.23 L211.80,131.17 L212.06,131.17 L212.06,130.12 L212.32,130.12 L212.32,129.07 L212.59,129.07 L212.59,128.01 L212.85,128.01 L212.85,126.96 L213.31,126.96 L213.31,125.91 L213.82,125.91 L213.82,124.86 L214.33,124.86 L214.33,123.80 L214.84,123.80 L214.84,122.75 L215.25,122.75 L215.25,121.70 L215.54,121.70 L215.54,120.64 L215.83,120.64 L215.83,119.59 L216.12,119.59 L216.12,118.54 L216.30,118.54 L216.30,117.48 L216.30,117.48 L216.30,116.43 L216.30,116.43 L216.30,115.38 L216.30,115.38 L216.30,114.33 L216.38,114.33 L216.38,113.27 L217.16,113.27 L217.16,112.22 L217.95,112.22 L217.95,111.17 L218.74,111.17 L218.74,110.11 L219.52,110.11 L219.52,109.06 L218.67,109.06 L218.67,108.01 L217.64,108.01 L217.64,106.95 L216.61,106.95 L216.61,105.90 L218.73,105.90 L218.73,104.85 L222.20,104.85 L222.20,103.80 L225.67,103.80 L225.67,102.74 L227.54,102.74 L227.54,101.69 L227.83,101.69 L227.83,100.64 L228.11,100.64 L228.11,99.58 L228.40,99.58 L228.40,98.53 L228.75,98.53 L228.75,97.48 L229.27,97.48 L229.27,96.42 L229.78,96.42 L229.78,95.37 L230.29,95.37 L230.29,94.32 L230.80,94.32 L230.80,93.27 L230.54,93.27 L230.54,92.21 L230.28,92.21 L230.28,91.16 L230.01,91.16 L230.01,90.11 L229.75,90.11 L229.75,89.05 L229.26,89.05 L229.26,88.00 L228.71,88.00 L228.71,86.95 L228.17,86.95 L228.17,85.89 L227.62,85.89 L227.62,84.84 L227.40,84.84 L227.40,83.79 L227.40,83.79 L227.40,82.74 L227.40,82.74 L227.40,81.68 L227.40,81.68 L227.40,80.63 L227.31,80.63 L227.31,79.58 L227.09,79.58 L227.09,78.52 L226.86,78.52 L226.86,77.47 L226.64,77.47 L226.64,76.42 L226.41,76.42 L226.41,75.36 L209.61,75.36 L209.61,74.31 L199.81,74.31 L199.81,73.26 L200.12,73.26 L200.12,72.21 L200.43,72.21 L200.43,71.15 L200.67,71.15 L200.67,70.10 L200.33,70.10 L200.33,69.05 L200.00,69.05 L200.00,67.99 L199.67,67.99 L199.67,66.94 L199.60,66.94 L199.60,65.89 L199.60,65.89 L199.60,64.83 L199.60,64.83 L199.60,63.78 L199.34,63.78 L199.34,62.73 L198.96,62.73 L198.96,61.68 L198.59,61.68 L198.59,60.62 L197.54,60.62 L197.54,59.57 L195.82,59.57 L195.82,58.52 L194.10,58.52 L194.10,57.46 L192.38,57.46 L192.38,56.41 L190.62,56.41 L190.62,55.36 L188.88,55.36 L188.88,54.30 L187.12,54.30 L187.12,53.25 L185.31,53.25 L185.31,52.20 L183.51,52.20 L183.51,51.15 L181.70,51.15 L181.70,50.09 L178.92,50.09 L178.92,49.04 L176.14,49.04 L176.14,47.99 L173.36,47.99 L173.36,46.93 L166.11,46.93 L166.11,45.88 L159.89,45.88 L159.89,44.83 L164.31,44.83 L164.31,43.77 L168.43,43.77 L168.43,42.72 L166.63,42.72 L166.63,41.67 L163.85,41.67 L163.85,40.62 L161.07,40.62 L161.07,39.56 L158.29,39.56 L158.29,38.51 L155.51,38.51 L155.51,37.46 L152.72,37.46 L152.72,36.40 L150.08,36.40 L150.08,35.35 L147.99,35.35 L147.99,34.30 L145.89,34.30 L145.89,33.24 L143.80,33.24 L143.80,32.19 L142.74,32.19 L142.74,31.14 L141.67,31.14 L141.67,30.09 L140.61,30.09 L140.61,29.03 L140.00,29.03 L140.00,27.98 L139.50,27.98 L139.50,26.93 L139.00,26.93 L139.00,25.87 L138.60,25.87 Z" fill="url(#stripe)"/>
<path d="M138.60,132.23 L138.30,132.23 L138.30,131.17 L138.30,131.17 L138.30,130.12 L138.30,130.12 L138.30,129.07 L138.23,129.07 L138.23,128.01 L138.16,128.01 L138.16,126.96 L138.09,126.96 L138.09,125.91 L138.01,125.91 L138.01,124.86 L137.94,124.86 L137.94,123.80 L137.87,123.80 L137.87,122.75 L137.80,122.75 L137.80,121.70 L137.73,121.70 L137.73,120.64 L137.63,120.64 L137.63,119.59 L137.51,119.59 L137.51,118.54 L137.40,118.54 L137.40,117.48 L137.28,117.48 L137.28,116.43 L137.17,116.43 L137.17,115.38 L137.05,115.38 L137.05,114.33 L136.93,114.33 L136.93,113.27 L136.82,113.27 L136.82,112.22 L136.70,112.22 L136.70,111.17 L136.45,111.17 L136.45,110.11 L136.21,110.11 L136.21,109.06 L135.96,109.06 L135.96,108.01 L135.71,108.01 L135.71,106.95 L135.46,106.95 L135.46,105.90 L135.22,105.90 L135.22,104.85 L134.97,104.85 L134.97,103.80 L134.72,103.80 L134.72,102.74 L134.47,102.74 L134.47,101.69 L134.20,101.69 L134.20,100.64 L133.94,100.64 L133.94,99.58 L133.67,99.58 L133.67,98.53 L133.40,98.53 L133.40,97.48 L133.14,97.48 L133.14,96.42 L132.87,96.42 L132.87,95.37 L132.59,95.37 L132.59,94.32 L132.31,94.32 L132.31,93.27 L132.03,93.27 L132.03,92.21 L131.75,92.21 L131.75,91.16 L131.47,91.16 L131.47,90.11 L131.18,90.11 L131.18,89.05 L130.90,89.05 L130.90,88.00 L130.62,88.00 L130.62,86.95 L130.34,86.95 L130.34,85.89 L130.06,85.89 L130.06,84.84 L129.78,84.84 L129.78,83.79 L129.50,83.79 L129.50,82.74 L129.19,82.74 L129.19,81.68 L128.82,81.68 L128.82,80.63 L128.44,80.63 L128.44,79.58 L128.07,79.58 L128.07,78.52 L127.70,78.52 L127.70,77.47 L128.22,77.47 L128.22,76.42 L128.75,76.42 L128.75,75.36 L129.19,75.36 L129.19,74.31 L129.61,74.31 L129.61,73.26 L130.04,73.26 L130.04,72.21 L130.47,72.21 L130.47,71.15 L130.90,71.15 L130.90,70.10 L131.33,70.10 L131.33,69.05 L131.71,69.05 L131.71,67.99 L132.05,67.99 L132.05,66.94 L132.39,66.94 L132.39,65.89 L132.74,65.89 L132.74,64.83 L133.08,64.83 L133.08,63.78 L133.42,63.78 L133.42,62.73 L133.76,62.73 L133.76,61.68 L134.03,61.68 L134.03,60.62 L134.31,60.62 L134.31,59.57 L134.59,59.57 L134.59,58.52 L134.86,58.52 L134.86,57.46 L135.14,57.46 L135.14,56.41 L135.42,56.41 L135.42,55.36 L135.74,55.36 L135.74,54.30 L136.09,54.30 L136.09,53.25 L136.44,53.25 L136.44,52.20 L136.79,52.20 L136.79,51.15 L137.14,51.15 L137.14,50.09 L137.49,50.09 L137.49,49.04 L137.76,49.04 L137.76,47.99 L137.91,47.99 L137.91,46.93 L138.05,46.93 L138.05,45.88 L138.20,45.88 L138.20,44.83 L138.60,44.83 Z" fill="#6666d4"/>
<path d="M138.60,132.23 L139.00,132.23 L139.00,131.17 L139.09,131.17 L139.09,130.12 L139.17,130.12 L139.17,129.07 L139.26,129.07 L139.26,128.01 L139.35,128.01 L139.35,126.96 L139.43,126.96 L139.43,125.91 L139.52,125.91 L139.52,124.86 L139.61,124.86 L139.61,123.80 L139.69,123.80 L139.69,122.75 L139.78,122.75 L139.78,121.70 L139.87,121.70 L139.87,120.64 L139.99,120.64 L139.99,119.59 L140.14,119.59 L140.14,118.54 L140.29,118.54 L140.29,117.48 L140.44,117.48 L140.44,116.43 L140.60,116.43 L140.60,115.38 L140.75,115.38 L140.75,114.33 L140.90,114.33 L140.90,113.27 L141.05,113.27 L141.05,112.22 L141.20,112.22 L141.20,111.17 L141.39,111.17 L141.39,110.11 L141.58,110.11 L141.58,109.06 L141.76,109.06 L141.76,108.01 L141.95,108.01 L141.95,106.95 L142.14,106.95 L142.14,105.90 L142.33,105.90 L142.33,104.85 L142.52,104.85 L142.52,103.80 L142.71,103.80 L142.71,102.74 L142.97,102.74 L142.97,101.69 L143.32,101.69 L143.32,100.64 L143.66,100.64 L143.66,99.58 L144.00,99.58 L144.00,98.53 L144.35,98.53 L144.35,97.48 L144.69,97.48 L144.69,96.42 L145.04,96.42 L145.04,95.37 L145.40,95.37 L145.40,94.32 L145.75,94.32 L145.75,93.27 L146.11,93.27 L146.11,92.21 L146.47,92.21 L146.47,91.16 L146.83,91.16 L146.83,90.11 L147.19,90.11 L147.19,89.05 L147.46,89.05 L147.46,88.00 L147.70,88.00 L147.70,86.95 L147.93,86.95 L147.93,85.89 L148.17,85.89 L148.17,84.84 L148.40,84.84 L148.40,83.79 L148.64,83.79 L148.64,82.74 L148.88,82.74 L148.88,81.68 L149.14,81.68 L149.14,80.63 L149.41,80.63 L149.41,79.58 L149.67,79.58 L149.67,78.52 L149.94,78.52 L149.94,77.47 L150.20,77.47 L150.20,76.42 L149.77,76.42 L149.77,75.36 L149.35,75.36 L149.35,74.31 L148.92,74.31 L148.92,73.26 L148.50,73.26 L148.50,72.21 L148.07,72.21 L148.07,71.15 L147.73,71.15 L147.73,70.10 L147.44,70.10 L147.44,69.05 L147.16,69.05 L147.16,67.99 L146.87,67.99 L146.87,66.94 L146.59,66.94 L146.59,65.89 L146.30,65.89 L146.30,64.83 L146.05,64.83 L146.05,63.78 L145.88,63.78 L145.88,62.73 L145.70,62.73 L145.70,61.68 L145.53,61.68 L145.53,60.62 L145.36,60.62 L145.36,59.57 L145.19,59.57 L145.19,58.52 L145.02,58.52 L145.02,57.46 L144.69,57.46 L144.69,56.41 L144.35,56.41 L144.35,55.36 L144.00,55.36 L144.00,54.30 L143.66,54.30 L143.66,53.25 L143.32,53.25 L143.32,52.20 L142.97,52.20 L142.97,51.15 L142.62,51.15 L142.62,50.09 L142.26,50.09 L142.26,49.04 L141.90,49.04 L141.90,47.99 L141.54,47.99 L141.54,46.93 L141.18,46.93 L141.18,45.88 L140.82,45.88 L140.82,44.83 L140.48,44.83 L140.48,43.77 L140.33,43.77 L140.33,42.72 L140.18,42.72 L140.18,41.67 L140.03,41.67 L140.03,40.62 L139.87,40.62 L139.87,39.56 L139.72,39.56 L139.72,38.51 L139.57,38.51 L139.57,37.46 L139.41,37.46 L139.41,36.40 L139.26,36.40 L139.26,35.35 L139.15,35.35 L139.15,34.30 L139.07,34.30 L139.07,33.24 L138.98,33.24 L138.98,32.19 L138.90,32.19 L138.90,31.14 L138.60,31.14 Z" fill="#d86666"/>
<line x1="138.79999999999998" y1="18.2" x2="138.79999999999998" y2="135.5" stroke="#8a3a5a" stroke-width="1.2"/>
<rect x="24.95" y="15.2" width="228.05" height="120.90" fill="none" stroke="#454545" stroke-width="1.2"/>
<line x1="54.20" y1="12.40" x2="54.20" y2="15.20" stroke="#454545" stroke-width="1"/>
<line x1="54.20" y1="136.10" x2="54.20" y2="138.50" stroke="#454545" stroke-width="1"/>
<line x1="96.40" y1="12.40" x2="96.40" y2="15.20" stroke="#454545" stroke-width="1"/>
<line x1="96.40" y1="136.10" x2="96.40" y2="138.50" stroke="#454545" stroke-width="1"/>
<line x1="138.60" y1="12.40" x2="138.60" y2="15.20" stroke="#454545" stroke-width="1"/>
<line x1="138.60" y1="136.10" x2="138.60" y2="138.50" stroke="#454545" stroke-width="1"/>
<line x1="180.80" y1="12.40" x2="180.80" y2="15.20" stroke="#454545" stroke-width="1"/>
<line x1="180.80" y1="136.10" x2="180.80" y2="138.50" stroke="#454545" stroke-width="1"/>
<line x1="223.00" y1="12.40" x2="223.00" y2="15.20" stroke="#454545" stroke-width="1"/>
<line x1="223.00" y1="136.10" x2="223.00" y2="138.50" stroke="#454545" stroke-width="1"/>
<line x1="22.35" y1="131.70" x2="24.95" y2="131.70" stroke="#454545" stroke-width="1"/>
<line x1="22.35" y1="110.64" x2="24.95" y2="110.64" stroke="#454545" stroke-width="1"/>
<line x1="22.35" y1="89.58" x2="24.95" y2="89.58" stroke="#454545" stroke-width="1"/>
<line x1="22.35" y1="68.52" x2="24.95" y2="68.52" stroke="#454545" stroke-width="1"/>
<line x1="22.35" y1="47.46" x2="24.95" y2="47.46" stroke="#454545" stroke-width="1"/>
<line x1="22.35" y1="26.40" x2="24.95" y2="26.40" stroke="#454545" stroke-width="1"/>
<g font-family='"Liberation Sans", sans-serif' fill="#111" stroke="#1a1a1a" stroke-width="0.15">
<text x="25.30" y="12.80" font-size="16.5" textLength="10.20" lengthAdjust="spacingAndGlyphs">C</text>
<text x="54.20" y="8.50" font-size="8.7" textLength="26.70" lengthAdjust="spacingAndGlyphs" text-anchor="middle">404000</text>
<text x="96.40" y="8.50" font-size="8.7" textLength="26.70" lengthAdjust="spacingAndGlyphs" text-anchor="middle">202000</text>
<text x="138.60" y="8.50" font-size="8.7" textLength="4.45" lengthAdjust="spacingAndGlyphs" text-anchor="middle">0</text>
<text x="180.80" y="8.50" font-size="8.7" textLength="26.70" lengthAdjust="spacingAndGlyphs" text-anchor="middle">202000</text>
<text x="223.00" y="8.50" font-size="8.7" textLength="26.70" lengthAdjust="spacingAndGlyphs" text-anchor="middle">404000</text>
<text x="54.20" y="148.80" font-size="8.7" textLength="13.35" lengthAdjust="spacingAndGlyphs" text-anchor="middle">400</text>
<text x="96.40" y="148.80" font-size="8.7" textLength="13.35" lengthAdjust="spacingAndGlyphs" text-anchor="middle">200</text>
<text x="138.60" y="148.80" font-size="8.7" textLength="4.45" lengthAdjust="spacingAndGlyphs" text-anchor="middle">0</text>
<text x="180.80" y="148.80" font-size="8.7" textLength="13.35" lengthAdjust="spacingAndGlyphs" text-anchor="middle">200</text>
<text x="223.00" y="148.80" font-size="8.7" textLength="13.35" lengthAdjust="spacingAndGlyphs" text-anchor="middle">400</text>
<text x="42.40" y="25.00" font-size="7.1" textLength="52.00" lengthAdjust="spacingAndGlyphs">Male population:</text>
<text x="45.20" y="32.70" font-size="7.1">28.57 millions</text>
<text x="175.80" y="24.80" font-size="7.1" textLength="60.40" lengthAdjust="spacingAndGlyphs">Female population:</text>
<text x="234.20" y="32.80" font-size="7.1" text-anchor="end">30.29 millions</text>
<text x="27.10" y="51.00" font-size="9.2" textLength="15.00" lengthAdjust="spacingAndGlyphs">Year</text>
<text x="47.60" y="51.00" font-size="9.2" textLength="17.20" lengthAdjust="spacingAndGlyphs">2000</text>
<text x="38.50" y="159.90" font-size="7.15">No. of male CML cases: 1713</text>
<text x="240.00" y="159.90" font-size="7.2" text-anchor="end">No. of female CML cases : 1918</text>
<text transform="translate(18.3,131.70) rotate(-90)" font-size="8.2" text-anchor="middle">0</text>
<text transform="translate(18.3,110.64) rotate(-90)" font-size="8.2" text-anchor="middle">20</text>
<text transform="translate(18.3,89.58) rotate(-90)" font-size="8.2" text-anchor="middle">40</text>
<text transform="translate(18.3,68.52) rotate(-90)" font-size="8.2" text-anchor="middle">60</text>
<text transform="translate(18.3,47.46) rotate(-90)" font-size="8.2" text-anchor="middle">80</text>
<text transform="translate(18.3,26.40) rotate(-90)" font-size="8.2" text-anchor="middle">100</text>
<text transform="translate(6.9,76.0) rotate(-90)" font-size="7.2" text-anchor="middle">Age</text>
</g>
</g>
<g transform="translate(259.30,173.10)">
<path d="M138.60,132.23 L57.30,132.23 L57.30,131.17 L57.01,131.17 L57.01,130.12 L56.73,130.12 L56.73,129.07 L56.44,129.07 L56.44,128.01 L56.16,128.01 L56.16,126.96 L55.90,126.96 L55.90,125.91 L55.64,125.91 L55.64,124.86 L55.38,124.86 L55.38,123.80 L55.13,123.80 L55.13,122.75 L55.13,122.75 L55.13,121.70 L55.40,121.70 L55.40,120.64 L55.67,120.64 L55.67,119.59 L55.94,119.59 L55.94,118.54 L56.00,118.54 L56.00,117.48 L55.74,117.48 L55.74,116.43 L55.49,116.43 L55.49,115.38 L55.23,115.38 L55.23,114.33 L55.00,114.33 L55.00,113.27 L55.00,113.27 L55.00,112.22 L55.00,112.22 L55.00,111.17 L55.00,111.17 L55.00,110.11 L55.00,110.11 L55.00,109.06 L55.23,109.06 L55.23,108.01 L55.49,108.01 L55.49,106.95 L55.74,106.95 L55.74,105.90 L56.00,105.90 L56.00,104.85 L56.27,104.85 L56.27,103.80 L56.56,103.80 L56.56,102.74 L56.84,102.74 L56.84,101.69 L57.13,101.69 L57.13,100.64 L57.09,100.64 L57.09,99.58 L56.55,99.58 L56.55,98.53 L56.02,98.53 L56.02,97.48 L55.48,97.48 L55.48,96.42 L53.80,96.42 L53.80,95.37 L46.33,95.37 L46.33,94.32 L45.67,94.32 L45.67,93.27 L45.00,93.27 L45.00,92.21 L45.34,92.21 L45.34,91.16 L45.69,91.16 L45.69,90.11 L46.03,90.11 L46.03,89.05 L46.10,89.05 L46.10,88.00 L46.10,88.00 L46.10,86.95 L46.10,86.95 L46.10,85.89 L46.10,85.89 L46.10,84.84 L46.41,84.84 L46.41,83.79 L46.94,83.79 L46.94,82.74 L47.46,82.74 L47.46,81.68 L47.99,81.68 L47.99,80.63 L48.51,80.63 L48.51,79.58 L49.05,79.58 L49.05,78.52 L49.58,78.52 L49.58,77.47 L50.12,77.47 L50.12,76.42 L50.83,76.42 L50.83,75.36 L53.15,75.36 L53.15,74.31 L55.07,74.31 L55.07,73.26 L55.43,73.26 L55.43,72.21 L55.78,72.21 L55.78,71.15 L56.24,71.15 L56.24,70.10 L57.60,70.10 L57.60,69.05 L58.96,69.05 L58.96,67.99 L60.33,67.99 L60.33,66.94 L62.49,66.94 L62.49,65.89 L66.41,65.89 L66.41,64.83 L72.68,64.83 L72.68,63.78 L78.26,63.78 L78.26,62.73 L81.08,62.73 L81.08,61.68 L83.90,61.68 L83.90,60.62 L86.09,60.62 L86.09,59.57 L88.28,59.57 L88.28,58.52 L89.64,58.52 L89.64,57.46 L90.91,57.46 L90.91,56.41 L92.17,56.41 L92.17,55.36 L93.55,55.36 L93.55,54.30 L94.95,54.30 L94.95,53.25 L96.34,53.25 L96.34,52.20 L97.75,52.20 L97.75,51.15 L99.16,51.15 L99.16,50.09 L101.18,50.09 L101.18,49.04 L103.27,49.04 L103.27,47.99 L105.76,47.99 L105.76,46.93 L108.41,46.93 L108.41,45.88 L111.13,45.88 L111.13,44.83 L113.95,44.83 L113.95,43.77 L116.93,43.77 L116.93,42.72 L120.60,42.72 L120.60,41.67 L124.11,41.67 L124.11,40.62 L126.20,40.62 L126.20,39.56 L128.29,39.56 L128.29,38.51 L130.38,38.51 L130.38,37.46 L132.47,37.46 L132.47,36.40 L134.34,36.40 L134.34,35.35 L136.11,35.35 L136.11,34.30 L137.17,34.30 L137.17,33.24 L137.51,33.24 L137.51,32.19 L137.86,32.19 L137.86,31.14 L138.20,31.14 L138.20,30.09 L138.60,30.09 Z" fill="url(#stripe)"/>
<path d="M138.60,132.23 L216.00,132.23 L216.00,131.17 L216.35,131.17 L216.35,130.12 L216.71,130.12 L216.71,129.07 L217.06,129.07 L217.06,128.01 L217.10,128.01 L217.10,126.96 L217.10,126.96 L217.10,125.91 L217.10,125.91 L217.10,124.86 L217.10,124.86 L217.10,123.80 L217.26,123.80 L217.26,122.75 L217.52,122.75 L217.52,121.70 L217.78,121.70 L217.78,120.64 L218.04,120.64 L218.04,119.59 L218.00,119.59 L218.00,118.54 L217.48,118.54 L217.48,117.48 L216.97,117.48 L216.97,116.43 L216.46,116.43 L216.46,115.38 L216.05,115.38 L216.05,114.33 L216.58,114.33 L216.58,113.27 L217.10,113.27 L217.10,112.22 L217.62,112.22 L217.62,111.17 L218.15,111.17 L218.15,110.11 L218.44,110.11 L218.44,109.06 L218.70,109.06 L218.70,108.01 L218.96,108.01 L218.96,106.95 L219.22,106.95 L219.22,105.90 L219.56,105.90 L219.56,104.85 L219.94,104.85 L219.94,103.80 L220.31,103.80 L220.31,102.74 L220.84,102.74 L220.84,101.69 L221.53,101.69 L221.53,100.64 L222.22,100.64 L222.22,99.58 L222.38,99.58 L222.38,98.53 L221.32,98.53 L221.32,97.48 L220.26,97.48 L220.26,96.42 L220.63,96.42 L220.63,95.37 L228.92,95.37 L228.92,94.32 L229.71,94.32 L229.71,93.27 L230.50,93.27 L230.50,92.21 L230.83,92.21 L230.83,91.16 L231.17,91.16 L231.17,90.11 L231.50,90.11 L231.50,89.05 L231.85,89.05 L231.85,88.00 L232.20,88.00 L232.20,86.95 L232.56,86.95 L232.56,85.89 L232.49,85.89 L232.49,84.84 L232.13,84.84 L232.13,83.79 L231.78,83.79 L231.78,82.74 L231.27,82.74 L231.27,81.68 L230.60,81.68 L230.60,80.63 L229.93,80.63 L229.93,79.58 L229.26,79.58 L229.26,78.52 L228.55,78.52 L228.55,77.47 L227.84,77.47 L227.84,76.42 L227.16,76.42 L227.16,75.36 L226.79,75.36 L226.79,74.31 L226.41,74.31 L226.41,73.26 L226.04,73.26 L226.04,72.21 L225.69,72.21 L225.69,71.15 L225.35,71.15 L225.35,70.10 L225.00,70.10 L225.00,69.05 L223.14,69.05 L223.14,67.99 L220.62,67.99 L220.62,66.94 L217.76,66.94 L217.76,65.89 L213.54,65.89 L213.54,64.83 L208.23,64.83 L208.23,63.78 L202.64,63.78 L202.64,62.73 L199.36,62.73 L199.36,61.68 L197.64,61.68 L197.64,60.62 L196.29,60.62 L196.29,59.57 L195.53,59.57 L195.53,58.52 L194.76,58.52 L194.76,57.46 L194.30,57.46 L194.30,56.41 L194.30,56.41 L194.30,55.36 L194.30,55.36 L194.30,54.30 L194.16,54.30 L194.16,53.25 L193.89,53.25 L193.89,52.20 L193.61,52.20 L193.61,51.15 L192.87,51.15 L192.87,50.09 L191.83,50.09 L191.83,49.04 L190.36,49.04 L190.36,47.99 L188.27,47.99 L188.27,46.93 L186.04,46.93 L186.04,45.88 L183.22,45.88 L183.22,44.83 L180.40,44.83 L180.40,43.77 L177.63,43.77 L177.63,42.72 L174.85,42.72 L174.85,41.67 L171.50,41.67 L171.50,40.62 L168.00,40.62 L168.00,39.56 L163.94,39.56 L163.94,38.51 L159.37,38.51 L159.37,37.46 L154.24,37.46 L154.24,36.40 L150.76,36.40 L150.76,35.35 L147.99,35.35 L147.99,34.30 L146.20,34.30 L146.20,33.24 L145.41,33.24 L145.41,32.19 L144.62,32.19 L144.62,31.14 L143.66,31.14 L143.66,30.09 L142.59,30.09 L142.59,29.03 L141.52,29.03 L141.52,27.98 L140.63,27.98 L140.63,26.93 L139.81,26.93 L139.81,25.87 L139.00,25.87 L139.00,24.82 L138.60,24.82 Z" fill="url(#stripe)"/>
<path d="M138.60,132.23 L138.10,132.23 L138.10,131.17 L137.99,131.17 L137.99,130.12 L137.88,130.12 L137.88,129.07 L137.78,129.07 L137.78,128.01 L137.67,128.01 L137.67,126.96 L137.56,126.96 L137.56,125.91 L137.45,125.91 L137.45,124.86 L137.33,124.86 L137.33,123.80 L137.20,123.80 L137.20,122.75 L137.07,122.75 L137.07,121.70 L136.94,121.70 L136.94,120.64 L136.81,120.64 L136.81,119.59 L136.68,119.59 L136.68,118.54 L136.55,118.54 L136.55,117.48 L136.42,117.48 L136.42,116.43 L136.28,116.43 L136.28,115.38 L136.08,115.38 L136.08,114.33 L135.88,114.33 L135.88,113.27 L135.69,113.27 L135.69,112.22 L135.49,112.22 L135.49,111.17 L135.29,111.17 L135.29,110.11 L135.09,110.11 L135.09,109.06 L134.90,109.06 L134.90,108.01 L134.70,108.01 L134.70,106.95 L134.42,106.95 L134.42,105.90 L134.05,105.90 L134.05,104.85 L133.69,104.85 L133.69,103.80 L133.32,103.80 L133.32,102.74 L132.96,102.74 L132.96,101.69 L132.59,101.69 L132.59,100.64 L132.19,100.64 L132.19,99.58 L131.66,99.58 L131.66,98.53 L131.13,98.53 L131.13,97.48 L130.60,97.48 L130.60,96.42 L130.07,96.42 L130.07,95.37 L129.54,95.37 L129.54,94.32 L129.01,94.32 L129.01,93.27 L128.35,93.27 L128.35,92.21 L127.67,92.21 L127.67,91.16 L126.99,91.16 L126.99,90.11 L126.31,90.11 L126.31,89.05 L125.62,89.05 L125.62,88.00 L124.94,88.00 L124.94,86.95 L124.23,86.95 L124.23,85.89 L123.50,85.89 L123.50,84.84 L122.76,84.84 L122.76,83.79 L122.03,83.79 L122.03,82.74 L121.30,82.74 L121.30,81.68 L120.56,81.68 L120.56,80.63 L119.83,80.63 L119.83,79.58 L119.13,79.58 L119.13,78.52 L118.42,78.52 L118.42,77.47 L117.72,77.47 L117.72,76.42 L117.02,76.42 L117.02,75.36 L116.31,75.36 L116.31,74.31 L115.61,74.31 L115.61,73.26 L115.05,73.26 L115.05,72.21 L114.55,72.21 L114.55,71.15 L114.05,71.15 L114.05,70.10 L113.61,70.10 L113.61,69.05 L113.71,69.05 L113.71,67.99 L113.82,67.99 L113.82,66.94 L114.43,66.94 L114.43,65.89 L117.07,65.89 L117.07,64.83 L118.46,64.83 L118.46,63.78 L119.53,63.78 L119.53,62.73 L120.60,62.73 L120.60,61.68 L121.29,61.68 L121.29,60.62 L121.97,60.62 L121.97,59.57 L122.66,59.57 L122.66,58.52 L123.27,58.52 L123.27,57.46 L123.80,57.46 L123.80,56.41 L124.34,56.41 L124.34,55.36 L124.87,55.36 L124.87,54.30 L125.43,54.30 L125.43,53.25 L126.10,53.25 L126.10,52.20 L126.77,52.20 L126.77,51.15 L127.43,51.15 L127.43,50.09 L128.10,50.09 L128.10,49.04 L128.85,49.04 L128.85,47.99 L129.64,47.99 L129.64,46.93 L130.42,46.93 L130.42,45.88 L131.21,45.88 L131.21,44.83 L131.95,44.83 L131.95,43.77 L132.65,43.77 L132.65,42.72 L133.34,42.72 L133.34,41.67 L134.04,41.67 L134.04,40.62 L134.74,40.62 L134.74,39.56 L135.45,39.56 L135.45,38.51 L136.15,38.51 L136.15,37.46 L136.85,37.46 L136.85,36.40 L137.56,36.40 L137.56,35.35 L137.84,35.35 L137.84,34.30 L138.02,34.30 L138.02,33.24 L138.20,33.24 L138.20,32.19 L138.60,32.19 Z" fill="#6666d4"/>
<path d="M138.60,132.23 L139.10,132.23 L139.10,131.17 L139.15,131.17 L139.15,130.12 L139.19,130.12 L139.19,129.07 L139.28,129.07 L139.28,128.01 L139.39,128.01 L139.39,126.96 L139.50,126.96 L139.50,125.91 L139.60,125.91 L139.60,124.86 L139.71,124.86 L139.71,123.80 L139.81,123.80 L139.81,122.75 L139.92,122.75 L139.92,121.70 L140.03,121.70 L140.03,120.64 L140.14,120.64 L140.14,119.59 L140.27,119.59 L140.27,118.54 L140.40,118.54 L140.40,117.48 L140.53,117.48 L140.53,116.43 L140.66,116.43 L140.66,115.38 L140.79,115.38 L140.79,114.33 L140.92,114.33 L140.92,113.27 L141.04,113.27 L141.04,112.22 L141.17,112.22 L141.17,111.17 L141.37,111.17 L141.37,110.11 L141.58,110.11 L141.58,109.06 L141.79,109.06 L141.79,108.01 L142.00,108.01 L142.00,106.95 L142.22,106.95 L142.22,105.90 L142.43,105.90 L142.43,104.85 L142.64,104.85 L142.64,103.80 L142.85,103.80 L142.85,102.74 L143.10,102.74 L143.10,101.69 L143.45,101.69 L143.45,100.64 L143.79,100.64 L143.79,99.58 L144.13,99.58 L144.13,98.53 L144.48,98.53 L144.48,97.48 L144.82,97.48 L144.82,96.42 L145.17,96.42 L145.17,95.37 L145.69,95.37 L145.69,94.32 L146.23,94.32 L146.23,93.27 L146.77,93.27 L146.77,92.21 L147.30,92.21 L147.30,91.16 L147.84,91.16 L147.84,90.11 L148.38,90.11 L148.38,89.05 L148.91,89.05 L148.91,88.00 L149.42,88.00 L149.42,86.95 L149.94,86.95 L149.94,85.89 L150.46,85.89 L150.46,84.84 L150.97,84.84 L150.97,83.79 L151.49,83.79 L151.49,82.74 L152.04,82.74 L152.04,81.68 L152.74,81.68 L152.74,80.63 L153.45,80.63 L153.45,79.58 L154.15,79.58 L154.15,78.52 L154.85,78.52 L154.85,77.47 L155.56,77.47 L155.56,76.42 L156.26,76.42 L156.26,75.36 L157.33,75.36 L157.33,74.31 L158.49,74.31 L158.49,73.26 L159.66,73.26 L159.66,72.21 L160.82,72.21 L160.82,71.15 L161.70,71.15 L161.70,70.10 L162.31,70.10 L162.31,69.05 L162.92,69.05 L162.92,67.99 L162.52,67.99 L162.52,66.94 L161.70,66.94 L161.70,65.89 L160.51,65.89 L160.51,64.83 L158.78,64.83 L158.78,63.78 L157.29,63.78 L157.29,62.73 L156.71,62.73 L156.71,61.68 L156.14,61.68 L156.14,60.62 L155.69,60.62 L155.69,59.57 L155.43,59.57 L155.43,58.52 L155.16,58.52 L155.16,57.46 L154.79,57.46 L154.79,56.41 L154.28,56.41 L154.28,55.36 L153.76,55.36 L153.76,54.30 L153.10,54.30 L153.10,53.25 L152.31,53.25 L152.31,52.20 L151.52,52.20 L151.52,51.15 L150.89,51.15 L150.89,50.09 L150.36,50.09 L150.36,49.04 L149.84,49.04 L149.84,47.99 L149.32,47.99 L149.32,46.93 L148.76,46.93 L148.76,45.88 L148.05,45.88 L148.05,44.83 L147.35,44.83 L147.35,43.77 L146.65,43.77 L146.65,42.72 L145.94,42.72 L145.94,41.67 L145.11,41.67 L145.11,40.62 L144.25,40.62 L144.25,39.56 L143.38,39.56 L143.38,38.51 L142.52,38.51 L142.52,37.46 L141.61,37.46 L141.61,36.40 L140.65,36.40 L140.65,35.35 L139.68,35.35 L139.68,34.30 L139.10,34.30 L139.10,33.24 L138.90,33.24 L138.90,32.19 L138.60,32.19 Z" fill="#d86666"/>
<line x1="138.79999999999998" y1="18.2" x2="138.79999999999998" y2="135.5" stroke="#8a3a5a" stroke-width="1.2"/>
<rect x="24.95" y="15.2" width="228.05" height="120.90" fill="none" stroke="#454545" stroke-width="1.2"/>
<line x1="54.20" y1="12.40" x2="54.20" y2="15.20" stroke="#454545" stroke-width="1"/>
<line x1="54.20" y1="136.10" x2="54.20" y2="138.50" stroke="#454545" stroke-width="1"/>
<line x1="96.40" y1="12.40" x2="96.40" y2="15.20" stroke="#454545" stroke-width="1"/>
<line x1="96.40" y1="136.10" x2="96.40" y2="138.50" stroke="#454545" stroke-width="1"/>
<line x1="138.60" y1="12.40" x2="138.60" y2="15.20" stroke="#454545" stroke-width="1"/>
<line x1="138.60" y1="136.10" x2="138.60" y2="138.50" stroke="#454545" stroke-width="1"/>
<line x1="180.80" y1="12.40" x2="180.80" y2="15.20" stroke="#454545" stroke-width="1"/>
<line x1="180.80" y1="136.10" x2="180.80" y2="138.50" stroke="#454545" stroke-width="1"/>
<line x1="223.00" y1="12.40" x2="223.00" y2="15.20" stroke="#454545" stroke-width="1"/>
<line x1="223.00" y1="136.10" x2="223.00" y2="138.50" stroke="#454545" stroke-width="1"/>
<line x1="22.35" y1="131.70" x2="24.95" y2="131.70" stroke="#454545" stroke-width="1"/>
<line x1="22.35" y1="110.64" x2="24.95" y2="110.64" stroke="#454545" stroke-width="1"/>
<line x1="22.35" y1="89.58" x2="24.95" y2="89.58" stroke="#454545" stroke-width="1"/>
<line x1="22.35" y1="68.52" x2="24.95" y2="68.52" stroke="#454545" stroke-width="1"/>
<line x1="22.35" y1="47.46" x2="24.95" y2="47.46" stroke="#454545" stroke-width="1"/>
<line x1="22.35" y1="26.40" x2="24.95" y2="26.40" stroke="#454545" stroke-width="1"/>
<g font-family='"Liberation Sans", sans-serif' fill="#111" stroke="#1a1a1a" stroke-width="0.15">
<text x="25.30" y="12.80" font-size="16.5" textLength="10.20" lengthAdjust="spacingAndGlyphs">D</text>
<text x="54.20" y="8.50" font-size="8.7" textLength="26.70" lengthAdjust="spacingAndGlyphs" text-anchor="middle">404000</text>
<text x="96.40" y="8.50" font-size="8.7" textLength="26.70" lengthAdjust="spacingAndGlyphs" text-anchor="middle">202000</text>
<text x="138.60" y="8.50" font-size="8.7" textLength="4.45" lengthAdjust="spacingAndGlyphs" text-anchor="middle">0</text>
<text x="180.80" y="8.50" font-size="8.7" textLength="26.70" lengthAdjust="spacingAndGlyphs" text-anchor="middle">202000</text>
<text x="223.00" y="8.50" font-size="8.7" textLength="26.70" lengthAdjust="spacingAndGlyphs" text-anchor="middle">404000</text>
<text x="54.20" y="148.80" font-size="8.7" textLength="13.35" lengthAdjust="spacingAndGlyphs" text-anchor="middle">400</text>
<text x="96.40" y="148.80" font-size="8.7" textLength="13.35" lengthAdjust="spacingAndGlyphs" text-anchor="middle">200</text>
<text x="138.60" y="148.80" font-size="8.7" textLength="4.45" lengthAdjust="spacingAndGlyphs" text-anchor="middle">0</text>
<text x="180.80" y="148.80" font-size="8.7" textLength="13.35" lengthAdjust="spacingAndGlyphs" text-anchor="middle">200</text>
<text x="223.00" y="148.80" font-size="8.7" textLength="13.35" lengthAdjust="spacingAndGlyphs" text-anchor="middle">400</text>
<text x="42.40" y="25.00" font-size="7.1" textLength="52.00" lengthAdjust="spacingAndGlyphs">Male population:</text>
<text x="45.20" y="32.70" font-size="7.1">30.4 millions</text>
<text x="175.80" y="24.80" font-size="7.1" textLength="60.40" lengthAdjust="spacingAndGlyphs">Female population:</text>
<text x="234.20" y="32.80" font-size="7.1" text-anchor="end">32.37 millions</text>
<text x="27.10" y="51.00" font-size="9.2" textLength="15.00" lengthAdjust="spacingAndGlyphs">Year</text>
<text x="47.60" y="51.00" font-size="9.2" textLength="17.20" lengthAdjust="spacingAndGlyphs">2010</text>
<text x="38.50" y="159.90" font-size="7.15">No. of male CML cases: 4172</text>
<text x="240.00" y="159.90" font-size="7.2" text-anchor="end">No. of female CML cases : 4134</text>
<text transform="translate(18.3,131.70) rotate(-90)" font-size="8.2" text-anchor="middle">0</text>
<text transform="translate(18.3,110.64) rotate(-90)" font-size="8.2" text-anchor="middle">20</text>
<text transform="translate(18.3,89.58) rotate(-90)" font-size="8.2" text-anchor="middle">40</text>
<text transform="translate(18.3,68.52) rotate(-90)" font-size="8.2" text-anchor="middle">60</text>
<text transform="translate(18.3,47.46) rotate(-90)" font-size="8.2" text-anchor="middle">80</text>
<text transform="translate(18.3,26.40) rotate(-90)" font-size="8.2" text-anchor="middle">100</text>
<text transform="translate(6.9,76.0) rotate(-90)" font-size="7.2" text-anchor="middle">Age</text>
</g>
</g>
<g transform="translate(0.00,346.30)">
<path d="M138.60,132.23 L55.30,132.23 L55.30,131.17 L55.30,131.17 L55.30,130.12 L55.30,130.12 L55.30,129.07 L55.30,129.07 L55.30,128.01 L55.07,128.01 L55.07,126.96 L54.81,126.96 L54.81,125.91 L54.56,125.91 L54.56,124.86 L54.30,124.86 L54.30,123.80 L53.89,123.80 L53.89,122.75 L53.38,122.75 L53.38,121.70 L52.87,121.70 L52.87,120.64 L52.36,120.64 L52.36,119.59 L52.08,119.59 L52.08,118.54 L52.34,118.54 L52.34,117.48 L52.60,117.48 L52.60,116.43 L52.86,116.43 L52.86,115.38 L53.13,115.38 L53.13,114.33 L53.38,114.33 L53.38,113.27 L53.64,113.27 L53.64,112.22 L53.89,112.22 L53.89,111.17 L54.15,111.17 L54.15,110.11 L54.61,110.11 L54.61,109.06 L55.12,109.06 L55.12,108.01 L55.63,108.01 L55.63,106.95 L56.14,106.95 L56.14,105.90 L56.53,105.90 L56.53,104.85 L56.79,104.85 L56.79,103.80 L57.05,103.80 L57.05,102.74 L57.32,102.74 L57.32,101.69 L57.19,101.69 L57.19,100.64 L56.17,100.64 L56.17,99.58 L55.15,99.58 L55.15,98.53 L54.12,98.53 L54.12,97.48 L53.10,97.48 L53.10,96.42 L52.39,96.42 L52.39,95.37 L51.68,95.37 L51.68,94.32 L50.97,94.32 L50.97,93.27 L51.52,93.27 L51.52,92.21 L52.21,92.21 L52.21,91.16 L52.89,91.16 L52.89,90.11 L52.62,90.11 L52.62,89.05 L51.93,89.05 L51.93,88.00 L51.24,88.00 L51.24,86.95 L50.38,86.95 L50.38,85.89 L49.33,85.89 L49.33,84.84 L48.28,84.84 L48.28,83.79 L47.24,83.79 L47.24,82.74 L46.50,82.74 L46.50,81.68 L47.03,81.68 L47.03,80.63 L47.55,80.63 L47.55,79.58 L48.08,79.58 L48.08,78.52 L48.60,78.52 L48.60,77.47 L48.86,77.47 L48.86,76.42 L49.12,76.42 L49.12,75.36 L49.39,75.36 L49.39,74.31 L49.65,74.31 L49.65,73.26 L50.33,73.26 L50.33,72.21 L51.12,72.21 L51.12,71.15 L51.91,71.15 L51.91,70.10 L52.70,70.10 L52.70,69.05 L53.62,69.05 L53.62,67.99 L54.65,67.99 L54.65,66.94 L55.68,66.94 L55.68,65.89 L56.72,65.89 L56.72,64.83 L57.78,64.83 L57.78,63.78 L58.84,63.78 L58.84,62.73 L59.91,62.73 L59.91,61.68 L60.97,61.68 L60.97,60.62 L62.04,60.62 L62.04,59.57 L63.10,59.57 L63.10,58.52 L64.47,58.52 L64.47,57.46 L65.85,57.46 L65.85,56.41 L67.22,56.41 L67.22,55.36 L68.60,55.36 L68.60,54.30 L89.18,54.30 L89.18,53.25 L91.13,53.25 L91.13,52.20 L93.52,52.20 L93.52,51.15 L96.56,51.15 L96.56,50.09 L99.36,50.09 L99.36,49.04 L101.18,49.04 L101.18,47.99 L102.99,47.99 L102.99,46.93 L104.80,46.93 L104.80,45.88 L106.62,45.88 L106.62,44.83 L108.96,44.83 L108.96,43.77 L111.37,43.77 L111.37,42.72 L113.77,42.72 L113.77,41.67 L116.18,41.67 L116.18,40.62 L118.72,40.62 L118.72,39.56 L121.33,39.56 L121.33,38.51 L123.93,38.51 L123.93,37.46 L126.54,37.46 L126.54,36.40 L128.83,36.40 L128.83,35.35 L130.64,35.35 L130.64,34.30 L132.45,34.30 L132.45,33.24 L134.27,33.24 L134.27,32.19 L135.97,32.19 L135.97,31.14 L136.72,31.14 L136.72,30.09 L137.46,30.09 L137.46,29.03 L138.20,29.03 L138.20,27.98 L138.60,27.98 Z" fill="url(#stripe)"/>
<path d="M138.60,132.23 L217.40,132.23 L217.40,131.17 L217.40,131.17 L217.40,130.12 L217.40,130.12 L217.40,129.07 L217.65,129.07 L217.65,128.01 L217.93,128.01 L217.93,126.96 L218.21,126.96 L218.21,125.91 L218.49,125.91 L218.49,124.86 L218.91,124.86 L218.91,123.80 L219.42,123.80 L219.42,122.75 L219.93,122.75 L219.93,121.70 L220.44,121.70 L220.44,120.64 L220.64,120.64 L220.64,119.59 L220.12,119.59 L220.12,118.54 L219.60,118.54 L219.60,117.48 L219.07,117.48 L219.07,116.43 L218.63,116.43 L218.63,115.38 L218.89,115.38 L218.89,114.33 L219.15,114.33 L219.15,113.27 L219.41,113.27 L219.41,112.22 L219.67,112.22 L219.67,111.17 L219.22,111.17 L219.22,110.11 L218.68,110.11 L218.68,109.06 L218.15,109.06 L218.15,108.01 L217.61,108.01 L217.61,106.95 L217.73,106.95 L217.73,105.90 L218.28,105.90 L218.28,104.85 L218.82,104.85 L218.82,103.80 L219.37,103.80 L219.37,102.74 L220.01,102.74 L220.01,101.69 L220.77,101.69 L220.77,100.64 L221.54,100.64 L221.54,99.58 L222.31,99.58 L222.31,98.53 L223.03,98.53 L223.03,97.48 L223.29,97.48 L223.29,96.42 L223.55,96.42 L223.55,95.37 L223.81,95.37 L223.81,94.32 L224.07,94.32 L224.07,93.27 L224.33,93.27 L224.33,92.21 L224.59,92.21 L224.59,91.16 L224.84,91.16 L224.84,90.11 L225.10,90.11 L225.10,89.05 L225.04,89.05 L225.04,88.00 L224.78,88.00 L224.78,86.95 L224.52,86.95 L224.52,85.89 L224.26,85.89 L224.26,84.84 L225.07,84.84 L225.07,83.79 L227.51,83.79 L227.51,82.74 L229.95,82.74 L229.95,81.68 L231.76,81.68 L231.76,80.63 L231.07,80.63 L231.07,79.58 L230.39,79.58 L230.39,78.52 L229.70,78.52 L229.70,77.47 L229.44,77.47 L229.44,76.42 L229.18,76.42 L229.18,75.36 L228.91,75.36 L228.91,74.31 L228.65,74.31 L228.65,73.26 L228.38,73.26 L228.38,72.21 L228.10,72.21 L228.10,71.15 L227.82,71.15 L227.82,70.10 L227.54,70.10 L227.54,69.05 L227.06,69.05 L227.06,67.99 L226.37,67.99 L226.37,66.94 L225.68,66.94 L225.68,65.89 L225.10,65.89 L225.10,64.83 L224.75,64.83 L224.75,63.78 L224.41,63.78 L224.41,62.73 L224.06,62.73 L224.06,61.68 L223.71,61.68 L223.71,60.62 L223.35,60.62 L223.35,59.57 L223.00,59.57 L223.00,58.52 L222.45,58.52 L222.45,57.46 L221.90,57.46 L221.90,56.41 L221.35,56.41 L221.35,55.36 L220.80,55.36 L220.80,54.30 L201.21,54.30 L201.21,53.25 L199.62,53.25 L199.62,52.20 L197.81,52.20 L197.81,51.15 L196.00,51.15 L196.00,50.09 L194.08,50.09 L194.08,49.04 L192.05,49.04 L192.05,47.99 L190.02,47.99 L190.02,46.93 L187.97,46.93 L187.97,45.88 L185.81,45.88 L185.81,44.83 L183.65,44.83 L183.65,43.77 L181.35,43.77 L181.35,42.72 L177.88,42.72 L177.88,41.67 L174.42,41.67 L174.42,40.62 L170.95,40.62 L170.95,39.56 L166.83,39.56 L166.83,38.51 L162.64,38.51 L162.64,37.46 L158.46,37.46 L158.46,36.40 L155.49,36.40 L155.49,35.35 L153.06,35.35 L153.06,34.30 L150.62,34.30 L150.62,33.24 L148.53,33.24 L148.53,32.19 L146.78,32.19 L146.78,31.14 L145.03,31.14 L145.03,30.09 L143.48,30.09 L143.48,29.03 L142.42,29.03 L142.42,27.98 L141.35,27.98 L141.35,26.93 L140.36,26.93 L140.36,25.87 L139.68,25.87 L139.68,24.82 L139.00,24.82 L139.00,23.77 L138.60,23.77 Z" fill="url(#stripe)"/>
<path d="M138.60,132.23 L138.10,132.23 L138.10,131.17 L137.94,131.17 L137.94,130.12 L137.79,130.12 L137.79,129.07 L137.63,129.07 L137.63,128.01 L137.47,128.01 L137.47,126.96 L137.32,126.96 L137.32,125.91 L137.16,125.91 L137.16,124.86 L137.01,124.86 L137.01,123.80 L136.85,123.80 L136.85,122.75 L136.69,122.75 L136.69,121.70 L136.52,121.70 L136.52,120.64 L136.30,120.64 L136.30,119.59 L136.09,119.59 L136.09,118.54 L135.88,118.54 L135.88,117.48 L135.67,117.48 L135.67,116.43 L135.46,116.43 L135.46,115.38 L135.24,115.38 L135.24,114.33 L135.03,114.33 L135.03,113.27 L134.82,113.27 L134.82,112.22 L134.57,112.22 L134.57,111.17 L134.31,111.17 L134.31,110.11 L134.06,110.11 L134.06,109.06 L133.80,109.06 L133.80,108.01 L133.55,108.01 L133.55,106.95 L133.29,106.95 L133.29,105.90 L133.03,105.90 L133.03,104.85 L132.78,104.85 L132.78,103.80 L132.47,103.80 L132.47,102.74 L132.04,102.74 L132.04,101.69 L131.61,101.69 L131.61,100.64 L131.19,100.64 L131.19,99.58 L130.76,99.58 L130.76,98.53 L130.33,98.53 L130.33,97.48 L129.90,97.48 L129.90,96.42 L129.26,96.42 L129.26,95.37 L128.62,95.37 L128.62,94.32 L127.98,94.32 L127.98,93.27 L127.34,93.27 L127.34,92.21 L126.70,92.21 L126.70,91.16 L126.06,91.16 L126.06,90.11 L125.34,90.11 L125.34,89.05 L124.57,89.05 L124.57,88.00 L123.80,88.00 L123.80,86.95 L123.04,86.95 L123.04,85.89 L122.19,85.89 L122.19,84.84 L121.14,84.84 L121.14,83.79 L120.09,83.79 L120.09,82.74 L119.05,82.74 L119.05,81.68 L118.00,81.68 L118.00,80.63 L116.67,80.63 L116.67,79.58 L115.33,79.58 L115.33,78.52 L114.00,78.52 L114.00,77.47 L112.67,77.47 L112.67,76.42 L111.36,76.42 L111.36,75.36 L110.06,75.36 L110.06,74.31 L108.75,74.31 L108.75,73.26 L107.45,73.26 L107.45,72.21 L106.29,72.21 L106.29,71.15 L105.27,71.15 L105.27,70.10 L104.24,70.10 L104.24,69.05 L103.22,69.05 L103.22,67.99 L102.29,67.99 L102.29,66.94 L101.74,66.94 L101.74,65.89 L101.20,65.89 L101.20,64.83 L100.65,64.83 L100.65,63.78 L100.10,63.78 L100.10,62.73 L99.96,62.73 L99.96,61.68 L99.81,61.68 L99.81,60.62 L99.67,60.62 L99.67,59.57 L99.53,59.57 L99.53,58.52 L99.63,58.52 L99.63,57.46 L99.80,57.46 L99.80,56.41 L99.97,56.41 L99.97,55.36 L101.48,55.36 L101.48,54.30 L105.84,54.30 L105.84,53.25 L106.44,53.25 L106.44,52.20 L107.32,52.20 L107.32,51.15 L108.62,51.15 L108.62,50.09 L109.93,50.09 L109.93,49.04 L111.23,49.04 L111.23,47.99 L112.56,47.99 L112.56,46.93 L114.11,46.93 L114.11,45.88 L115.67,45.88 L115.67,44.83 L117.23,44.83 L117.23,43.77 L118.79,43.77 L118.79,42.72 L120.98,42.72 L120.98,41.67 L123.33,41.67 L123.33,40.62 L125.68,40.62 L125.68,39.56 L128.03,39.56 L128.03,38.51 L130.00,38.51 L130.00,37.46 L131.59,37.46 L131.59,36.40 L133.19,36.40 L133.19,35.35 L134.78,35.35 L134.78,34.30 L136.10,34.30 L136.10,33.24 L136.77,33.24 L136.77,32.19 L137.43,32.19 L137.43,31.14 L138.10,31.14 L138.10,30.09 L138.60,30.09 Z" fill="#6666d4"/>
<path d="M138.60,132.23 L139.10,132.23 L139.10,131.17 L139.27,131.17 L139.27,130.12 L139.45,130.12 L139.45,129.07 L139.62,129.07 L139.62,128.01 L139.79,128.01 L139.79,126.96 L139.97,126.96 L139.97,125.91 L140.14,125.91 L140.14,124.86 L140.31,124.86 L140.31,123.80 L140.48,123.80 L140.48,122.75 L140.63,122.75 L140.63,121.70 L140.78,121.70 L140.78,120.64 L140.93,120.64 L140.93,119.59 L141.08,119.59 L141.08,118.54 L141.23,118.54 L141.23,117.48 L141.38,117.48 L141.38,116.43 L141.53,116.43 L141.53,115.38 L141.68,115.38 L141.68,114.33 L141.83,114.33 L141.83,113.27 L141.98,113.27 L141.98,112.22 L142.14,112.22 L142.14,111.17 L142.30,111.17 L142.30,110.11 L142.46,110.11 L142.46,109.06 L142.62,109.06 L142.62,108.01 L142.78,108.01 L142.78,106.95 L142.94,106.95 L142.94,105.90 L143.10,105.90 L143.10,104.85 L143.26,104.85 L143.26,103.80 L143.41,103.80 L143.41,102.74 L143.57,102.74 L143.57,101.69 L143.75,101.69 L143.75,100.64 L144.02,100.64 L144.02,99.58 L144.30,99.58 L144.30,98.53 L144.57,98.53 L144.57,97.48 L144.84,97.48 L144.84,96.42 L145.11,96.42 L145.11,95.37 L145.38,95.37 L145.38,94.32 L145.65,94.32 L145.65,93.27 L145.92,93.27 L145.92,92.21 L146.36,92.21 L146.36,91.16 L146.88,91.16 L146.88,90.11 L147.39,90.11 L147.39,89.05 L147.91,89.05 L147.91,88.00 L148.42,88.00 L148.42,86.95 L148.94,86.95 L148.94,85.89 L149.51,85.89 L149.51,84.84 L150.21,84.84 L150.21,83.79 L150.92,83.79 L150.92,82.74 L151.62,82.74 L151.62,81.68 L152.32,81.68 L152.32,80.63 L153.03,80.63 L153.03,79.58 L153.73,79.58 L153.73,78.52 L154.74,78.52 L154.74,77.47 L155.79,77.47 L155.79,76.42 L156.83,76.42 L156.83,75.36 L157.88,75.36 L157.88,74.31 L159.10,74.31 L159.10,73.26 L160.43,73.26 L160.43,72.21 L161.77,72.21 L161.77,71.15 L163.10,71.15 L163.10,70.10 L164.42,70.10 L164.42,69.05 L165.72,69.05 L165.72,67.99 L167.03,67.99 L167.03,66.94 L168.33,66.94 L168.33,65.89 L169.60,65.89 L169.60,64.83 L170.65,64.83 L170.65,63.78 L171.70,63.78 L171.70,62.73 L172.75,62.73 L172.75,61.68 L173.80,61.68 L173.80,60.62 L174.53,60.62 L174.53,59.57 L175.22,59.57 L175.22,58.52 L175.92,58.52 L175.92,57.46 L175.64,57.46 L175.64,56.41 L174.71,56.41 L174.71,55.36 L173.79,55.36 L173.79,54.30 L168.27,54.30 L168.27,53.25 L165.30,53.25 L165.30,52.20 L164.80,52.20 L164.80,51.15 L164.30,51.15 L164.30,50.09 L163.69,50.09 L163.69,49.04 L162.64,49.04 L162.64,47.99 L161.60,47.99 L161.60,46.93 L160.55,46.93 L160.55,45.88 L159.50,45.88 L159.50,44.83 L158.44,44.83 L158.44,43.77 L157.36,43.77 L157.36,42.72 L156.29,42.72 L156.29,41.67 L155.22,41.67 L155.22,40.62 L153.81,40.62 L153.81,39.56 L152.25,39.56 L152.25,38.51 L150.69,38.51 L150.69,37.46 L149.13,37.46 L149.13,36.40 L147.68,36.40 L147.68,35.35 L146.38,35.35 L146.38,34.30 L145.07,34.30 L145.07,33.24 L143.77,33.24 L143.77,32.19 L142.53,32.19 L142.53,31.14 L141.84,31.14 L141.84,30.09 L141.15,30.09 L141.15,29.03 L140.46,29.03 L140.46,27.98 L139.77,27.98 L139.77,26.93 L139.37,26.93 L139.37,25.87 L139.00,25.87 L139.00,24.82 L138.60,24.82 Z" fill="#d86666"/>
<line x1="138.79999999999998" y1="18.2" x2="138.79999999999998" y2="135.5" stroke="#8a3a5a" stroke-width="1.2"/>
<rect x="24.95" y="15.2" width="228.05" height="120.90" fill="none" stroke="#454545" stroke-width="1.2"/>
<line x1="54.20" y1="12.40" x2="54.20" y2="15.20" stroke="#454545" stroke-width="1"/>
<line x1="54.20" y1="136.10" x2="54.20" y2="138.50" stroke="#454545" stroke-width="1"/>
<line x1="96.40" y1="12.40" x2="96.40" y2="15.20" stroke="#454545" stroke-width="1"/>
<line x1="96.40" y1="136.10" x2="96.40" y2="138.50" stroke="#454545" stroke-width="1"/>
<line x1="138.60" y1="12.40" x2="138.60" y2="15.20" stroke="#454545" stroke-width="1"/>
<line x1="138.60" y1="136.10" x2="138.60" y2="138.50" stroke="#454545" stroke-width="1"/>
<line x1="180.80" y1="12.40" x2="180.80" y2="15.20" stroke="#454545" stroke-width="1"/>
<line x1="180.80" y1="136.10" x2="180.80" y2="138.50" stroke="#454545" stroke-width="1"/>
<line x1="223.00" y1="12.40" x2="223.00" y2="15.20" stroke="#454545" stroke-width="1"/>
<line x1="223.00" y1="136.10" x2="223.00" y2="138.50" stroke="#454545" stroke-width="1"/>
<line x1="22.35" y1="131.70" x2="24.95" y2="131.70" stroke="#454545" stroke-width="1"/>
<line x1="22.35" y1="110.64" x2="24.95" y2="110.64" stroke="#454545" stroke-width="1"/>
<line x1="22.35" y1="89.58" x2="24.95" y2="89.58" stroke="#454545" stroke-width="1"/>
<line x1="22.35" y1="68.52" x2="24.95" y2="68.52" stroke="#454545" stroke-width="1"/>
<line x1="22.35" y1="47.46" x2="24.95" y2="47.46" stroke="#454545" stroke-width="1"/>
<line x1="22.35" y1="26.40" x2="24.95" y2="26.40" stroke="#454545" stroke-width="1"/>
<g font-family='"Liberation Sans", sans-serif' fill="#111" stroke="#1a1a1a" stroke-width="0.15">
<text x="25.30" y="12.80" font-size="16.5" textLength="10.20" lengthAdjust="spacingAndGlyphs">E</text>
<text x="54.20" y="8.50" font-size="8.7" textLength="26.70" lengthAdjust="spacingAndGlyphs" text-anchor="middle">404000</text>
<text x="96.40" y="8.50" font-size="8.7" textLength="26.70" lengthAdjust="spacingAndGlyphs" text-anchor="middle">202000</text>
<text x="138.60" y="8.50" font-size="8.7" textLength="4.45" lengthAdjust="spacingAndGlyphs" text-anchor="middle">0</text>
<text x="180.80" y="8.50" font-size="8.7" textLength="26.70" lengthAdjust="spacingAndGlyphs" text-anchor="middle">202000</text>
<text x="223.00" y="8.50" font-size="8.7" textLength="26.70" lengthAdjust="spacingAndGlyphs" text-anchor="middle">404000</text>
<text x="54.20" y="148.80" font-size="8.7" textLength="13.35" lengthAdjust="spacingAndGlyphs" text-anchor="middle">400</text>
<text x="96.40" y="148.80" font-size="8.7" textLength="13.35" lengthAdjust="spacingAndGlyphs" text-anchor="middle">200</text>
<text x="138.60" y="148.80" font-size="8.7" textLength="4.45" lengthAdjust="spacingAndGlyphs" text-anchor="middle">0</text>
<text x="180.80" y="148.80" font-size="8.7" textLength="13.35" lengthAdjust="spacingAndGlyphs" text-anchor="middle">200</text>
<text x="223.00" y="148.80" font-size="8.7" textLength="13.35" lengthAdjust="spacingAndGlyphs" text-anchor="middle">400</text>
<text x="42.40" y="25.00" font-size="7.1" textLength="52.00" lengthAdjust="spacingAndGlyphs">Male population:</text>
<text x="45.20" y="32.70" font-size="7.1">32.06 millions</text>
<text x="175.80" y="24.80" font-size="7.1" textLength="60.40" lengthAdjust="spacingAndGlyphs">Female population:</text>
<text x="234.20" y="32.80" font-size="7.1" text-anchor="end">33.9 millions</text>
<text x="27.10" y="51.00" font-size="9.2" textLength="15.00" lengthAdjust="spacingAndGlyphs">Year</text>
<text x="47.60" y="51.00" font-size="9.2" textLength="17.20" lengthAdjust="spacingAndGlyphs">2020</text>
<text x="38.50" y="159.90" font-size="7.15">No. of male CML cases: 6708</text>
<text x="240.00" y="159.90" font-size="7.2" text-anchor="end">No. of female CML cases : 6371</text>
<text transform="translate(18.3,131.70) rotate(-90)" font-size="8.2" text-anchor="middle">0</text>
<text transform="translate(18.3,110.64) rotate(-90)" font-size="8.2" text-anchor="middle">20</text>
<text transform="translate(18.3,89.58) rotate(-90)" font-size="8.2" text-anchor="middle">40</text>
<text transform="translate(18.3,68.52) rotate(-90)" font-size="8.2" text-anchor="middle">60</text>
<text transform="translate(18.3,47.46) rotate(-90)" font-size="8.2" text-anchor="middle">80</text>
<text transform="translate(18.3,26.40) rotate(-90)" font-size="8.2" text-anchor="middle">100</text>
<text transform="translate(6.9,76.0) rotate(-90)" font-size="7.2" text-anchor="middle">Age</text>
</g>
</g>
<g transform="translate(259.30,346.30)">
<path d="M138.60,132.23 L53.90,132.23 L53.90,131.17 L53.90,131.17 L53.90,130.12 L53.90,130.12 L53.90,129.07 L53.90,129.07 L53.90,128.01 L53.90,128.01 L53.90,126.96 L53.90,126.96 L53.90,125.91 L53.90,125.91 L53.90,124.86 L53.75,124.86 L53.75,123.80 L53.49,123.80 L53.49,122.75 L53.23,122.75 L53.23,121.70 L52.98,121.70 L52.98,120.64 L52.80,120.64 L52.80,119.59 L52.80,119.59 L52.80,118.54 L52.80,118.54 L52.80,117.48 L52.80,117.48 L52.80,116.43 L52.77,116.43 L52.77,115.38 L52.51,115.38 L52.51,114.33 L52.25,114.33 L52.25,113.27 L51.99,113.27 L51.99,112.22 L51.73,112.22 L51.73,111.17 L51.93,111.17 L51.93,110.11 L52.19,110.11 L52.19,109.06 L52.44,109.06 L52.44,108.01 L52.70,108.01 L52.70,106.95 L52.49,106.95 L52.49,105.90 L51.96,105.90 L51.96,104.85 L51.44,104.85 L51.44,103.80 L50.91,103.80 L50.91,102.74 L50.50,102.74 L50.50,101.69 L50.24,101.69 L50.24,100.64 L49.99,100.64 L49.99,99.58 L49.73,99.58 L49.73,98.53 L49.47,98.53 L49.47,97.48 L49.21,97.48 L49.21,96.42 L48.95,96.42 L48.95,95.37 L48.69,95.37 L48.69,94.32 L48.43,94.32 L48.43,93.27 L48.09,93.27 L48.09,92.21 L47.75,92.21 L47.75,91.16 L47.40,91.16 L47.40,90.11 L47.54,90.11 L47.54,89.05 L47.88,89.05 L47.88,88.00 L48.23,88.00 L48.23,86.95 L48.48,86.95 L48.48,85.89 L48.64,85.89 L48.64,84.84 L48.81,84.84 L48.81,83.79 L48.97,83.79 L48.97,82.74 L49.17,82.74 L49.17,81.68 L49.54,81.68 L49.54,80.63 L49.85,80.63 L49.85,79.58 L50.04,79.58 L50.04,78.52 L50.22,78.52 L50.22,77.47 L50.40,77.47 L50.40,76.42 L50.77,76.42 L50.77,75.36 L51.15,75.36 L51.15,74.31 L51.52,74.31 L51.52,73.26 L52.12,73.26 L52.12,72.21 L52.76,72.21 L52.76,71.15 L53.41,71.15 L53.41,70.10 L54.22,70.10 L54.22,69.05 L55.28,69.05 L55.28,67.99 L56.35,67.99 L56.35,66.94 L58.02,66.94 L58.02,65.89 L61.60,65.89 L61.60,64.83 L61.60,64.83 L61.60,63.78 L61.60,63.78 L61.60,62.73 L58.60,62.73 L58.60,61.68 L55.60,61.68 L55.60,60.62 L56.28,60.62 L56.28,59.57 L56.96,59.57 L56.96,58.52 L58.31,58.52 L58.31,57.46 L60.34,57.46 L60.34,56.41 L62.37,56.41 L62.37,55.36 L64.42,55.36 L64.42,54.30 L66.61,54.30 L66.61,53.25 L68.80,53.25 L68.80,52.20 L71.44,52.20 L71.44,51.15 L74.07,51.15 L74.07,50.09 L76.16,50.09 L76.16,49.04 L78.10,49.04 L78.10,47.99 L81.85,47.99 L81.85,46.93 L85.60,46.93 L85.60,45.88 L89.35,45.88 L89.35,44.83 L93.10,44.83 L93.10,43.77 L96.85,43.77 L96.85,42.72 L100.60,42.72 L100.60,41.67 L104.35,41.67 L104.35,40.62 L108.10,40.62 L108.10,39.56 L111.85,39.56 L111.85,38.51 L115.59,38.51 L115.59,37.46 L119.34,37.46 L119.34,36.40 L123.08,36.40 L123.08,35.35 L126.09,35.35 L126.09,34.30 L128.78,34.30 L128.78,33.24 L131.48,33.24 L131.48,32.19 L133.54,32.19 L133.54,31.14 L134.64,31.14 L134.64,30.09 L135.73,30.09 L135.73,29.03 L136.65,29.03 L136.65,27.98 L137.17,27.98 L137.17,26.93 L137.68,26.93 L137.68,25.87 L138.20,25.87 L138.20,24.82 L138.60,24.82 Z" fill="url(#stripe)"/>
<path d="M138.60,132.23 L219.30,132.23 L219.30,131.17 L219.30,131.17 L219.30,130.12 L219.30,130.12 L219.30,129.07 L219.30,129.07 L219.30,128.01 L219.30,128.01 L219.30,126.96 L219.30,126.96 L219.30,125.91 L219.30,125.91 L219.30,124.86 L219.47,124.86 L219.47,123.80 L219.75,123.80 L219.75,122.75 L220.03,122.75 L220.03,121.70 L220.30,121.70 L220.30,120.64 L220.58,120.64 L220.58,119.59 L220.84,119.59 L220.84,118.54 L221.10,118.54 L221.10,117.48 L221.36,117.48 L221.36,116.43 L221.63,116.43 L221.63,115.38 L221.89,115.38 L221.89,114.33 L222.15,114.33 L222.15,113.27 L222.41,113.27 L222.41,112.22 L222.67,112.22 L222.67,111.17 L222.70,111.17 L222.70,110.11 L222.70,110.11 L222.70,109.06 L222.70,109.06 L222.70,108.01 L222.70,108.01 L222.70,106.95 L222.86,106.95 L222.86,105.90 L223.12,105.90 L223.12,104.85 L223.38,104.85 L223.38,103.80 L223.64,103.80 L223.64,102.74 L224.00,102.74 L224.00,101.69 L224.52,101.69 L224.52,100.64 L225.03,100.64 L225.03,99.58 L225.54,99.58 L225.54,98.53 L225.97,98.53 L225.97,97.48 L225.71,97.48 L225.71,96.42 L225.45,96.42 L225.45,95.37 L225.19,95.37 L225.19,94.32 L224.93,94.32 L224.93,93.27 L225.21,93.27 L225.21,92.21 L225.55,92.21 L225.55,91.16 L225.90,91.16 L225.90,90.11 L225.52,90.11 L225.52,89.05 L224.83,89.05 L224.83,88.00 L224.14,88.00 L224.14,86.95 L223.93,86.95 L223.93,85.89 L224.18,85.89 L224.18,84.84 L224.44,84.84 L224.44,83.79 L224.70,83.79 L224.70,82.74 L224.96,82.74 L224.96,81.68 L225.28,81.68 L225.28,80.63 L225.60,80.63 L225.60,79.58 L225.36,79.58 L225.36,78.52 L225.13,78.52 L225.13,77.47 L224.89,77.47 L224.89,76.42 L224.91,76.42 L224.91,75.36 L225.10,75.36 L225.10,74.31 L225.29,74.31 L225.29,73.26 L225.25,73.26 L225.25,72.21 L224.89,72.21 L224.89,71.15 L224.53,71.15 L224.53,70.10 L224.13,70.10 L224.13,69.05 L223.43,69.05 L223.43,67.99 L222.74,67.99 L222.74,66.94 L222.04,66.94 L222.04,65.89 L217.53,65.89 L217.53,64.83 L217.16,64.83 L217.16,63.78 L216.80,63.78 L216.80,62.73 L217.04,62.73 L217.04,61.68 L217.28,61.68 L217.28,60.62 L223.73,60.62 L223.73,59.57 L224.40,59.57 L224.40,58.52 L225.07,58.52 L225.07,57.46 L225.03,57.46 L225.03,56.41 L224.29,56.41 L224.29,55.36 L223.56,55.36 L223.56,54.30 L222.82,54.30 L222.82,53.25 L221.01,53.25 L221.01,52.20 L218.74,52.20 L218.74,51.15 L216.92,51.15 L216.92,50.09 L215.55,50.09 L215.55,49.04 L214.19,49.04 L214.19,47.99 L212.63,47.99 L212.63,46.93 L210.29,46.93 L210.29,45.88 L207.94,45.88 L207.94,44.83 L205.60,44.83 L205.60,43.77 L202.95,43.77 L202.95,42.72 L200.31,42.72 L200.31,41.67 L197.66,41.67 L197.66,40.62 L193.74,40.62 L193.74,39.56 L188.98,39.56 L188.98,38.51 L184.19,38.51 L184.19,37.46 L179.36,37.46 L179.36,36.40 L174.53,36.40 L174.53,35.35 L169.83,35.35 L169.83,34.30 L165.22,34.30 L165.22,33.24 L160.60,33.24 L160.60,32.19 L157.19,32.19 L157.19,31.14 L153.79,31.14 L153.79,30.09 L150.38,30.09 L150.38,29.03 L147.46,29.03 L147.46,27.98 L145.64,27.98 L145.64,26.93 L143.83,26.93 L143.83,25.87 L142.01,25.87 L142.01,24.82 L140.20,24.82 L140.20,23.77 L139.60,23.77 L139.60,22.71 L139.00,22.71 L139.00,21.66 L138.60,21.66 Z" fill="url(#stripe)"/>
<path d="M138.60,132.23 L138.10,132.23 L138.10,131.17 L137.70,131.17 L137.70,130.12 L137.59,130.12 L137.59,129.07 L137.49,129.07 L137.49,128.01 L137.38,128.01 L137.38,126.96 L137.27,126.96 L137.27,125.91 L137.17,125.91 L137.17,124.86 L137.06,124.86 L137.06,123.80 L136.95,123.80 L136.95,122.75 L136.75,122.75 L136.75,121.70 L136.45,121.70 L136.45,120.64 L136.14,120.64 L136.14,119.59 L135.84,119.59 L135.84,118.54 L135.58,118.54 L135.58,117.48 L135.46,117.48 L135.46,116.43 L135.34,116.43 L135.34,115.38 L135.22,115.38 L135.22,114.33 L135.10,114.33 L135.10,113.27 L134.81,113.27 L134.81,112.22 L134.53,112.22 L134.53,111.17 L134.24,111.17 L134.24,110.11 L133.96,110.11 L133.96,109.06 L133.67,109.06 L133.67,108.01 L133.39,108.01 L133.39,106.95 L133.10,106.95 L133.10,105.90 L132.76,105.90 L132.76,104.85 L132.41,104.85 L132.41,103.80 L132.07,103.80 L132.07,102.74 L131.72,102.74 L131.72,101.69 L131.38,101.69 L131.38,100.64 L130.96,100.64 L130.96,99.58 L130.29,99.58 L130.29,98.53 L129.61,98.53 L129.61,97.48 L128.94,97.48 L128.94,96.42 L128.19,96.42 L128.19,95.37 L127.37,95.37 L127.37,94.32 L126.55,94.32 L126.55,93.27 L125.74,93.27 L125.74,92.21 L124.92,92.21 L124.92,91.16 L124.10,91.16 L124.10,90.11 L122.68,90.11 L122.68,89.05 L121.27,89.05 L121.27,88.00 L119.85,88.00 L119.85,86.95 L118.43,86.95 L118.43,85.89 L117.02,85.89 L117.02,84.84 L115.60,84.84 L115.60,83.79 L114.38,83.79 L114.38,82.74 L113.17,82.74 L113.17,81.68 L111.95,81.68 L111.95,80.63 L110.73,80.63 L110.73,79.58 L109.52,79.58 L109.52,78.52 L108.30,78.52 L108.30,77.47 L106.99,77.47 L106.99,76.42 L105.68,76.42 L105.68,75.36 L104.37,75.36 L104.37,74.31 L103.06,74.31 L103.06,73.26 L101.75,73.26 L101.75,72.21 L100.44,72.21 L100.44,71.15 L99.11,71.15 L99.11,70.10 L97.78,70.10 L97.78,69.05 L96.46,69.05 L96.46,67.99 L95.13,67.99 L95.13,66.94 L93.24,66.94 L93.24,65.89 L90.96,65.89 L90.96,64.83 L88.90,64.83 L88.90,63.78 L87.17,63.78 L87.17,62.73 L85.49,62.73 L85.49,61.68 L84.36,61.68 L84.36,60.62 L83.23,60.62 L83.23,59.57 L82.10,59.57 L82.10,58.52 L81.54,58.52 L81.54,57.46 L80.98,57.46 L80.98,56.41 L80.42,56.41 L80.42,55.36 L80.08,55.36 L80.08,54.30 L79.87,54.30 L79.87,53.25 L79.66,53.25 L79.66,52.20 L79.88,52.20 L79.88,51.15 L80.28,51.15 L80.28,50.09 L80.68,50.09 L80.68,49.04 L81.79,49.04 L81.79,47.99 L83.20,47.99 L83.20,46.93 L84.95,46.93 L84.95,45.88 L87.04,45.88 L87.04,44.83 L89.35,44.83 L89.35,43.77 L92.16,43.77 L92.16,42.72 L94.99,42.72 L94.99,41.67 L97.90,41.67 L97.90,40.62 L100.80,40.62 L100.80,39.56 L104.30,39.56 L104.30,38.51 L107.80,38.51 L107.80,37.46 L111.85,37.46 L111.85,36.40 L116.03,36.40 L116.03,35.35 L120.24,35.35 L120.24,34.30 L124.46,34.30 L124.46,33.24 L128.11,33.24 L128.11,32.19 L130.88,32.19 L130.88,31.14 L133.36,31.14 L133.36,30.09 L134.66,30.09 L134.66,29.03 L135.96,29.03 L135.96,27.98 L137.06,27.98 L137.06,26.93 L137.38,26.93 L137.38,25.87 L137.69,25.87 L137.69,24.82 L138.00,24.82 L138.00,23.77 L138.10,23.77 L138.10,22.71 L138.20,22.71 L138.20,21.66 L138.60,21.66 Z" fill="#6666d4"/>
<path d="M138.60,132.23 L139.10,132.23 L139.10,131.17 L139.28,131.17 L139.28,130.12 L139.45,130.12 L139.45,129.07 L139.62,129.07 L139.62,128.01 L139.80,128.01 L139.80,126.96 L139.96,126.96 L139.96,125.91 L140.12,125.91 L140.12,124.86 L140.27,124.86 L140.27,123.80 L140.43,123.80 L140.43,122.75 L140.59,122.75 L140.59,121.70 L140.75,121.70 L140.75,120.64 L140.90,120.64 L140.90,119.59 L141.06,119.59 L141.06,118.54 L141.22,118.54 L141.22,117.48 L141.38,117.48 L141.38,116.43 L141.53,116.43 L141.53,115.38 L141.69,115.38 L141.69,114.33 L141.85,114.33 L141.85,113.27 L142.01,113.27 L142.01,112.22 L142.17,112.22 L142.17,111.17 L142.33,111.17 L142.33,110.11 L142.50,110.11 L142.50,109.06 L142.67,109.06 L142.67,108.01 L142.83,108.01 L142.83,106.95 L143.00,106.95 L143.00,105.90 L143.17,105.90 L143.17,104.85 L143.33,104.85 L143.33,103.80 L143.50,103.80 L143.50,102.74 L143.69,102.74 L143.69,101.69 L143.93,101.69 L143.93,100.64 L144.16,100.64 L144.16,99.58 L144.40,99.58 L144.40,98.53 L144.63,98.53 L144.63,97.48 L144.87,97.48 L144.87,96.42 L145.10,96.42 L145.10,95.37 L145.49,95.37 L145.49,94.32 L145.88,94.32 L145.88,93.27 L146.28,93.27 L146.28,92.21 L146.67,92.21 L146.67,91.16 L147.06,91.16 L147.06,90.11 L147.50,90.11 L147.50,89.05 L147.94,89.05 L147.94,88.00 L148.38,88.00 L148.38,86.95 L148.97,86.95 L148.97,85.89 L149.71,85.89 L149.71,84.84 L150.45,84.84 L150.45,83.79 L151.19,83.79 L151.19,82.74 L151.93,82.74 L151.93,81.68 L152.71,81.68 L152.71,80.63 L153.84,80.63 L153.84,79.58 L154.97,79.58 L154.97,78.52 L156.10,78.52 L156.10,77.47 L157.21,77.47 L157.21,76.42 L158.31,76.42 L158.31,75.36 L159.54,75.36 L159.54,74.31 L161.26,74.31 L161.26,73.26 L162.60,73.26 L162.60,72.21 L163.85,72.21 L163.85,71.15 L165.10,71.15 L165.10,70.10 L166.35,70.10 L166.35,69.05 L167.83,69.05 L167.83,67.99 L169.66,67.99 L169.66,66.94 L171.49,66.94 L171.49,65.89 L173.32,65.89 L173.32,64.83 L175.52,64.83 L175.52,63.78 L178.60,63.78 L178.60,62.73 L180.43,62.73 L180.43,61.68 L182.27,61.68 L182.27,60.62 L184.10,60.62 L184.10,59.57 L185.43,59.57 L185.43,58.52 L186.77,58.52 L186.77,57.46 L188.10,57.46 L188.10,56.41 L189.21,56.41 L189.21,55.36 L190.31,55.36 L190.31,54.30 L191.41,54.30 L191.41,53.25 L192.45,53.25 L192.45,52.20 L193.50,52.20 L193.50,51.15 L193.85,51.15 L193.85,50.09 L194.20,50.09 L194.20,49.04 L193.79,49.04 L193.79,47.99 L193.06,47.99 L193.06,46.93 L192.18,46.93 L192.18,45.88 L191.13,45.88 L191.13,44.83 L189.88,44.83 L189.88,43.77 L188.15,43.77 L188.15,42.72 L186.38,42.72 L186.38,41.67 L184.19,41.67 L184.19,40.62 L182.00,40.62 L182.00,39.56 L179.18,39.56 L179.18,38.51 L176.36,38.51 L176.36,37.46 L173.00,37.46 L173.00,36.40 L169.50,36.40 L169.50,35.35 L166.00,35.35 L166.00,34.30 L162.50,34.30 L162.50,33.24 L159.00,33.24 L159.00,32.19 L155.50,32.19 L155.50,31.14 L152.19,31.14 L152.19,30.09 L149.62,30.09 L149.62,29.03 L147.05,29.03 L147.05,27.98 L144.74,27.98 L144.74,26.93 L143.43,26.93 L143.43,25.87 L142.12,25.87 L142.12,24.82 L141.03,24.82 L141.03,23.77 L140.48,23.77 L140.48,22.71 L139.93,22.71 L139.93,21.66 L139.50,21.66 L139.50,20.61 L139.25,20.61 L139.25,19.56 L139.00,19.56 L139.00,18.50 L138.60,18.50 Z" fill="#d86666"/>
<line x1="138.79999999999998" y1="18.2" x2="138.79999999999998" y2="135.5" stroke="#8a3a5a" stroke-width="1.2"/>
<rect x="24.95" y="15.2" width="228.05" height="120.90" fill="none" stroke="#454545" stroke-width="1.2"/>
<line x1="54.20" y1="12.40" x2="54.20" y2="15.20" stroke="#454545" stroke-width="1"/>
<line x1="54.20" y1="136.10" x2="54.20" y2="138.50" stroke="#454545" stroke-width="1"/>
<line x1="96.40" y1="12.40" x2="96.40" y2="15.20" stroke="#454545" stroke-width="1"/>
<line x1="96.40" y1="136.10" x2="96.40" y2="138.50" stroke="#454545" stroke-width="1"/>
<line x1="138.60" y1="12.40" x2="138.60" y2="15.20" stroke="#454545" stroke-width="1"/>
<line x1="138.60" y1="136.10" x2="138.60" y2="138.50" stroke="#454545" stroke-width="1"/>
<line x1="180.80" y1="12.40" x2="180.80" y2="15.20" stroke="#454545" stroke-width="1"/>
<line x1="180.80" y1="136.10" x2="180.80" y2="138.50" stroke="#454545" stroke-width="1"/>
<line x1="223.00" y1="12.40" x2="223.00" y2="15.20" stroke="#454545" stroke-width="1"/>
<line x1="223.00" y1="136.10" x2="223.00" y2="138.50" stroke="#454545" stroke-width="1"/>
<line x1="22.35" y1="131.70" x2="24.95" y2="131.70" stroke="#454545" stroke-width="1"/>
<line x1="22.35" y1="110.64" x2="24.95" y2="110.64" stroke="#454545" stroke-width="1"/>
<line x1="22.35" y1="89.58" x2="24.95" y2="89.58" stroke="#454545" stroke-width="1"/>
<line x1="22.35" y1="68.52" x2="24.95" y2="68.52" stroke="#454545" stroke-width="1"/>
<line x1="22.35" y1="47.46" x2="24.95" y2="47.46" stroke="#454545" stroke-width="1"/>
<line x1="22.35" y1="26.40" x2="24.95" y2="26.40" stroke="#454545" stroke-width="1"/>
<g font-family='"Liberation Sans", sans-serif' fill="#111" stroke="#1a1a1a" stroke-width="0.15">
<text x="25.30" y="12.80" font-size="16.5" textLength="10.20" lengthAdjust="spacingAndGlyphs">F</text>
<text x="54.20" y="8.50" font-size="8.7" textLength="26.70" lengthAdjust="spacingAndGlyphs" text-anchor="middle">404000</text>
<text x="96.40" y="8.50" font-size="8.7" textLength="26.70" lengthAdjust="spacingAndGlyphs" text-anchor="middle">202000</text>
<text x="138.60" y="8.50" font-size="8.7" textLength="4.45" lengthAdjust="spacingAndGlyphs" text-anchor="middle">0</text>
<text x="180.80" y="8.50" font-size="8.7" textLength="26.70" lengthAdjust="spacingAndGlyphs" text-anchor="middle">202000</text>
<text x="223.00" y="8.50" font-size="8.7" textLength="26.70" lengthAdjust="spacingAndGlyphs" text-anchor="middle">404000</text>
<text x="54.20" y="148.80" font-size="8.7" textLength="13.35" lengthAdjust="spacingAndGlyphs" text-anchor="middle">400</text>
<text x="96.40" y="148.80" font-size="8.7" textLength="13.35" lengthAdjust="spacingAndGlyphs" text-anchor="middle">200</text>
<text x="138.60" y="148.80" font-size="8.7" textLength="4.45" lengthAdjust="spacingAndGlyphs" text-anchor="middle">0</text>
<text x="180.80" y="148.80" font-size="8.7" textLength="13.35" lengthAdjust="spacingAndGlyphs" text-anchor="middle">200</text>
<text x="223.00" y="148.80" font-size="8.7" textLength="13.35" lengthAdjust="spacingAndGlyphs" text-anchor="middle">400</text>
<text x="42.40" y="25.00" font-size="7.1" textLength="52.00" lengthAdjust="spacingAndGlyphs">Male population:</text>
<text x="45.20" y="32.70" font-size="7.1">34.53 millions</text>
<text x="175.80" y="24.80" font-size="7.1" textLength="60.40" lengthAdjust="spacingAndGlyphs">Female population:</text>
<text x="234.20" y="32.80" font-size="7.1" text-anchor="end">36.21 millions</text>
<text x="27.10" y="51.00" font-size="9.2" textLength="15.00" lengthAdjust="spacingAndGlyphs">Year</text>
<text x="47.60" y="51.00" font-size="9.2" textLength="17.20" lengthAdjust="spacingAndGlyphs">2040</text>
<text x="38.50" y="159.90" font-size="7.15">No. of male CML cases: 10716</text>
<text x="240.00" y="159.90" font-size="7.2" text-anchor="end">No. of female CML cases : 9875</text>
<text transform="translate(18.3,131.70) rotate(-90)" font-size="8.2" text-anchor="middle">0</text>
<text transform="translate(18.3,110.64) rotate(-90)" font-size="8.2" text-anchor="middle">20</text>
<text transform="translate(18.3,89.58) rotate(-90)" font-size="8.2" text-anchor="middle">40</text>
<text transform="translate(18.3,68.52) rotate(-90)" font-size="8.2" text-anchor="middle">60</text>
<text transform="translate(18.3,47.46) rotate(-90)" font-size="8.2" text-anchor="middle">80</text>
<text transform="translate(18.3,26.40) rotate(-90)" font-size="8.2" text-anchor="middle">100</text>
<text transform="translate(6.9,76.0) rotate(-90)" font-size="7.2" text-anchor="middle">Age</text>
</g>
</g>
</svg>
</body></html>
